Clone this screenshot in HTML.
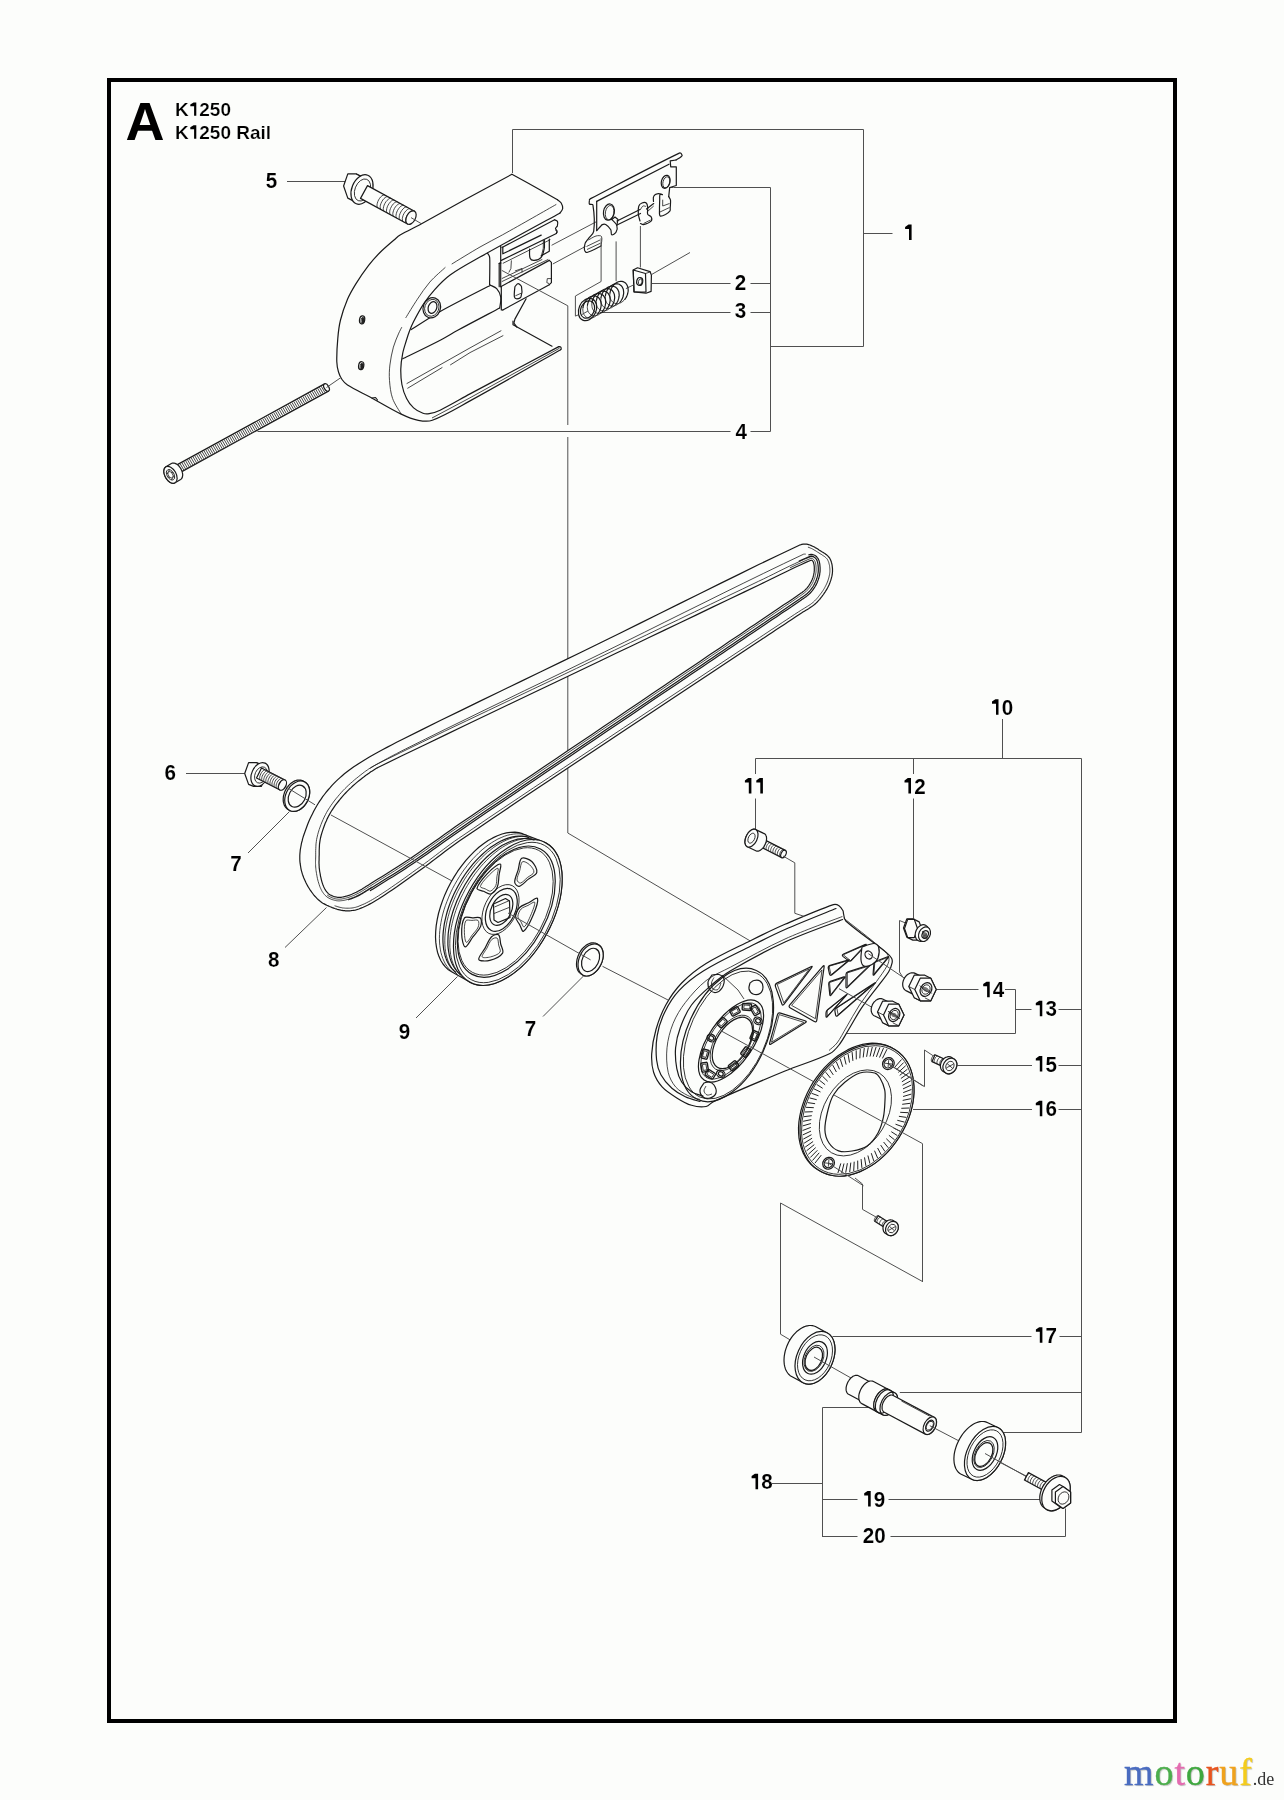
<!DOCTYPE html>
<html><head><meta charset="utf-8"><style>
html,body{margin:0;padding:0;background:#fcfdfb;}
body{width:1284px;height:1800px;position:relative;overflow:hidden;font-family:"Liberation Sans",sans-serif;}
#frame{position:absolute;left:107px;top:78px;width:1070px;height:1645px;box-sizing:border-box;border:4px solid #000;}
.hA{position:absolute;left:125px;top:95px;font:bold 53px/1 "Liberation Sans",sans-serif;color:#000;}
.h1{position:absolute;left:175px;top:100px;font:bold 19px/1 "Liberation Sans",sans-serif;color:#000;}
.h2{position:absolute;left:175px;top:123px;font:bold 19px/1 "Liberation Sans",sans-serif;color:#000;}
svg{position:absolute;left:0;top:0;will-change:transform;}
svg text{font:bold 21.7px "Liberation Sans",sans-serif;fill:#000;stroke:#fcfdfb;stroke-width:0.1px;}
svg text.bigA{font-size:54px;stroke-width:0;}
svg text.hd{font-size:19px;stroke-width:0.22px;}
.ld{stroke:#505050;stroke-width:1;fill:none;}
.o{stroke:#1a1a1a;stroke-width:1.2;fill:none;stroke-linejoin:round;stroke-linecap:round;}
.of{stroke:#1a1a1a;stroke-width:1.2;fill:#fcfdfb;stroke-linejoin:round;}
.t{stroke:#1a1a1a;stroke-width:0.8;fill:none;}
.logo{position:absolute;left:1124px;top:1753px;font:38px/1 "Liberation Serif",serif;letter-spacing:0.9px;white-space:nowrap;text-shadow:1px 1px 1px rgba(0,0,0,0.25);-webkit-text-stroke:0.35px currentColor;}
.logo small{font-size:18px;letter-spacing:0;color:#333;text-shadow:none;-webkit-text-stroke:0;}
</style></head><body>
<div id="frame"></div>
<svg width="1284" height="1800" viewBox="0 0 1284 1800">
<line class="ld" x1="287" y1="181.5" x2="345" y2="181.5"/>
<polyline class="ld" points="512.5,173 512.5,129.5 863.5,129.5 863.5,346.5 770.5,346.5"/>
<line class="ld" x1="863.5" y1="233.5" x2="892.5" y2="233.5"/>
<polyline class="ld" points="673.5,187.5 770.5,187.5 770.5,431.5 750.5,431.5"/>
<line class="ld" x1="750.5" y1="283.5" x2="770.5" y2="283.5"/>
<line class="ld" x1="750.5" y1="312.5" x2="770.5" y2="312.5"/>
<line class="ld" x1="652" y1="283.5" x2="730.5" y2="283.5"/>
<line class="ld" x1="600" y1="312.5" x2="730.5" y2="312.5"/>
<line class="ld" x1="257.5" y1="431.5" x2="730.5" y2="431.5"/>
<line class="ld" x1="1002.5" y1="719" x2="1002.5" y2="758.5"/>
<polyline class="ld" points="755.5,774 755.5,758.5 1081.5,758.5 1081.5,1432.5 1002,1432.5"/>
<line class="ld" x1="913.5" y1="758.5" x2="913.5" y2="774"/>
<line class="ld" x1="755.5" y1="798.5" x2="755.5" y2="830"/>
<line class="ld" x1="913.5" y1="798.5" x2="913.5" y2="918.5"/>
<line class="ld" x1="934" y1="989.5" x2="978.5" y2="989.5"/>
<polyline class="ld" points="1005,989.5 1015.5,989.5 1015.5,1033.5 846,1033.5"/>
<line class="ld" x1="1015.5" y1="1009.5" x2="1031.5" y2="1009.5"/>
<line class="ld" x1="1058.5" y1="1009.5" x2="1081.5" y2="1009.5"/>
<line class="ld" x1="957.5" y1="1065.5" x2="1032" y2="1065.5"/>
<line class="ld" x1="1058.5" y1="1065.5" x2="1081.5" y2="1065.5"/>
<line class="ld" x1="913" y1="1109.5" x2="1032" y2="1109.5"/>
<line class="ld" x1="1058.5" y1="1109.5" x2="1081.5" y2="1109.5"/>
<line class="ld" x1="832.5" y1="1336.5" x2="1031.5" y2="1336.5"/>
<line class="ld" x1="1059.5" y1="1336.5" x2="1081.5" y2="1336.5"/>
<line class="ld" x1="899.8" y1="1392.5" x2="1081.5" y2="1392.5"/>
<polyline class="ld" points="870,1407.5 822.5,1407.5 822.5,1537"/>
<line class="ld" x1="772" y1="1483.5" x2="822.5" y2="1483.5"/>
<line class="ld" x1="822.5" y1="1499.5" x2="857.5" y2="1499.5"/>
<line class="ld" x1="888.5" y1="1499.5" x2="1041.5" y2="1499.5"/>
<polyline class="ld" points="822.5,1536.5 857.5,1536.5"/>
<polyline class="ld" points="890.5,1536.5 1065.5,1536.5 1065.5,1508.5"/>
<line class="ld" x1="186" y1="773.5" x2="245.5" y2="773.5"/>
<line class="ld" x1="248" y1="853" x2="289.5" y2="811.5"/>
<line class="ld" x1="285" y1="947.5" x2="326.5" y2="907.5"/>
<line class="ld" x1="416" y1="1018" x2="457.5" y2="976.5"/>
<line class="ld" x1="543" y1="1016.5" x2="585" y2="974.5"/>
<text class="lb" transform="matrix(0.95,0,0,1,271.5,187.8)" text-anchor="middle">5</text>
<polygon points="905.1,226.9 908.5,224.6 911.6,224.6 911.6,240.1 909,240.1 909,229.1 905.1,229.1" fill="#000"/>
<text class="lb" transform="matrix(0.95,0,0,1,740.5,289.9)" text-anchor="middle">2</text>
<text class="lb" transform="matrix(0.95,0,0,1,740.5,317.7)" text-anchor="middle">3</text>
<text class="lb" transform="matrix(0.95,0,0,1,741.3,438.9)" text-anchor="middle">4</text>
<polygon points="992,701.5 995.4,699.2 998.5,699.2 998.5,714.7 996,714.7 996,703.7 992,703.7" fill="#000"/>
<text class="lb" transform="matrix(0.95,0,0,1,1007.5,714.7)" text-anchor="middle">0</text>
<polygon points="744.9,780.4 748.2,778.1 751.4,778.1 751.4,793.6 748.8,793.6 748.8,782.6 744.9,782.6" fill="#000"/>
<polygon points="756.3,780.4 759.7,778.1 762.9,778.1 762.9,793.6 760.3,793.6 760.3,782.6 756.3,782.6" fill="#000"/>
<polygon points="904.5,780.4 907.8,778.1 911,778.1 911,793.6 908.4,793.6 908.4,782.6 904.5,782.6" fill="#000"/>
<text class="lb" transform="matrix(0.95,0,0,1,919.9,793.6)" text-anchor="middle">2</text>
<text class="lb" transform="matrix(0.95,0,0,1,170.2,780.4)" text-anchor="middle">6</text>
<text class="lb" transform="matrix(0.95,0,0,1,236.1,871.2)" text-anchor="middle">7</text>
<text class="lb" transform="matrix(0.95,0,0,1,273.8,967.1)" text-anchor="middle">8</text>
<text class="lb" transform="matrix(0.95,0,0,1,404.5,1038.6)" text-anchor="middle">9</text>
<text class="lb" transform="matrix(0.95,0,0,1,530.4,1035.8)" text-anchor="middle">7</text>
<polygon points="983.2,984 986.5,981.7 989.7,981.7 989.7,997.2 987.1,997.2 987.1,986.2 983.2,986.2" fill="#000"/>
<text class="lb" transform="matrix(0.95,0,0,1,998.6,997.2)" text-anchor="middle">4</text>
<polygon points="1035.8,1003.1 1039.2,1000.8 1042.3,1000.8 1042.3,1016.3 1039.8,1016.3 1039.8,1005.3 1035.8,1005.3" fill="#000"/>
<text class="lb" transform="matrix(0.95,0,0,1,1051.3,1016.3)" text-anchor="middle">3</text>
<polygon points="1035.8,1058.4 1039.2,1056.1 1042.3,1056.1 1042.3,1071.6 1039.8,1071.6 1039.8,1060.6 1035.8,1060.6" fill="#000"/>
<text class="lb" transform="matrix(0.95,0,0,1,1051.3,1071.6)" text-anchor="middle">5</text>
<polygon points="1035.8,1103 1039.2,1100.7 1042.3,1100.7 1042.3,1116.2 1039.8,1116.2 1039.8,1105.2 1035.8,1105.2" fill="#000"/>
<text class="lb" transform="matrix(0.95,0,0,1,1051.3,1116.2)" text-anchor="middle">6</text>
<polygon points="1035.9,1329.6 1039.2,1327.3 1042.4,1327.3 1042.4,1342.8 1039.8,1342.8 1039.8,1331.8 1035.9,1331.8" fill="#000"/>
<text class="lb" transform="matrix(0.95,0,0,1,1051.3,1342.8)" text-anchor="middle">7</text>
<polygon points="751.6,1476 754.9,1473.7 758.1,1473.7 758.1,1489.2 755.5,1489.2 755.5,1478.2 751.6,1478.2" fill="#000"/>
<text class="lb" transform="matrix(0.95,0,0,1,767,1489.2)" text-anchor="middle">8</text>
<polygon points="864.2,1493.3 867.5,1491 870.7,1491 870.7,1506.5 868.1,1506.5 868.1,1495.5 864.2,1495.5" fill="#000"/>
<text class="lb" transform="matrix(0.95,0,0,1,879.6,1506.5)" text-anchor="middle">9</text>
<text class="lb" transform="matrix(0.95,0,0,1,868.6,1543)" text-anchor="middle">2</text>
<text class="lb" transform="matrix(0.95,0,0,1,880,1543)" text-anchor="middle">0</text>
<text class="bigA" x="125.6" y="140.3">A</text>
<text class="hd" transform="matrix(1.0,0,0,1,181.9,115.8)" text-anchor="middle">K</text>
<polygon points="190.3,104.4 193.6,102.4 196.3,102.4 196.3,115.8 194.1,115.8 194.1,106.3 190.3,106.3" fill="#000"/>
<text class="hd" transform="matrix(1.0,0,0,1,204.6,115.8)" text-anchor="middle">2</text>
<text class="hd" transform="matrix(1.0,0,0,1,215.1,115.8)" text-anchor="middle">5</text>
<text class="hd" transform="matrix(1.0,0,0,1,225.7,115.8)" text-anchor="middle">0</text>
<text class="hd" transform="matrix(1.0,0,0,1,181.9,138.7)" text-anchor="middle">K</text>
<polygon points="190.3,127.3 193.6,125.3 196.3,125.3 196.3,138.7 194.1,138.7 194.1,129.2 190.3,129.2" fill="#000"/>
<text class="hd" transform="matrix(1.0,0,0,1,204.6,138.7)" text-anchor="middle">2</text>
<text class="hd" transform="matrix(1.0,0,0,1,215.1,138.7)" text-anchor="middle">5</text>
<text class="hd" transform="matrix(1.0,0,0,1,225.7,138.7)" text-anchor="middle">0</text>
<text class="hd" transform="matrix(1.0,0,0,1,243.1,138.7)" text-anchor="middle">R</text>
<text class="hd" transform="matrix(1.0,0,0,1,255.3,138.7)" text-anchor="middle">a</text>
<text class="hd" transform="matrix(1.0,0,0,1,263.2,138.7)" text-anchor="middle">i</text>
<text class="hd" transform="matrix(1.0,0,0,1,268.5,138.7)" text-anchor="middle">l</text>
<path class="o" d="M511.9,174.3 C504,178.6 480.1,191.3 464.3,200 C449.9,207.9 435.6,216.1 421.1,224 C414.2,227.8 406.9,231 400.1,235 C397.8,236.3 396,238.3 394,240 C389.3,244.1 384.4,248.1 380,252.5 C375.9,256.6 372.1,260.9 368.6,265.4 C364,271.4 359.7,277.7 355.7,284.1 C352.7,289 349.7,294 347.5,299.3 C344.7,306 342.2,313 340.5,320 C339,326 338.3,332.2 337.8,338.4 C337.1,346.2 336.6,354 336.8,361.8 C336.9,365.2 337.5,368.7 338.5,372 C339.3,374.6 340.5,377.3 342,379.5 C343.5,381.6 345.3,383.7 347.5,385.1 C354.6,389.6 362.5,393 370,397 C380.4,402.6 390.5,409 401.2,414.1 C406.6,416.7 412.4,419.1 418.3,420.3 C422.8,421.2 428,421.9 432.3,420.3 C445.3,415.4 457.6,407.7 470,400.9 C500.4,384.2 545.6,358.2 560.7,349.7" />
<path class="o" d="M511.9,174.3 C515.8,176.4 527.3,182.7 535,187 C542.5,191.2 553.8,197.6 557.5,199.7" />
<path class="o" d="M557.5,199.7 C558.1,200.2 560.4,201.6 561.2,203 C562.1,204.6 562.9,206.8 562.7,208.5 C562.5,210.2 560.3,212.4 559.8,213.2" />
<path class="o" d="M559.8,213.2 C546.5,220.5 506.4,242.2 480,257.1 C469.9,262.8 459.5,268.3 450.1,275 C444.3,279.2 439.3,284.5 434.5,289.8 C430.5,294.2 426.9,298.9 423.6,303.9 C419.9,309.6 416.7,315.7 413.5,321.8 C412,324.8 410.7,327.9 409.5,331 C408.4,333.9 407.4,337 406.5,340 C405.2,344.4 403.6,348.9 402.7,353.4 C401.7,358.5 400.9,363.7 400.8,368.9 C400.7,374.1 400.9,379.4 401.9,384.5 C402.8,389.3 404.4,394.2 406.6,398.5 C408.3,402 410.8,405.3 413.6,407.9 C416.2,410.3 419.7,412.1 423,413.3 C424.9,414 427.2,414.1 429.2,413.7 C432.9,413 436.7,411.9 440.1,410.2 C450.3,405.3 460,399.3 470,393.9 C499.6,378.1 544,354.5 558.8,346.6" />
<path class="o" d="M558.8,346.6 C559.1,346.7 560.4,346.8 560.8,347.2 C561.2,347.6 561.2,348.4 561.2,349 C561.2,349.3 560.8,349.6 560.7,349.7" />
<polyline class="t" points="432,418 470,397.8 559.5,348.2"/>
<path class="t" d="M556.3,204.4 C547.3,209.5 520.6,224.8 502.6,234.8 C495.1,239 487.4,242.7 480,247 C470.5,252.5 456.4,261.2 451.7,264.1" />
<path class="t" d="M445.4,267.3 C442.8,269.8 434.5,276.7 429.8,282.1 C425.2,287.4 421.3,293.4 417.4,299.2 C413.3,305.3 407.6,314.8 405.7,317.9" />
<path class="t" d="M401.8,327.2 C401.3,328.2 399.7,331.1 398.8,333.1 C396.9,337.7 394.7,342.3 393.4,347.1 C391.8,352.9 390.6,359 389.9,365 C389.3,370.1 389.1,375.4 389.5,380.6 C390,386.6 390.6,392.9 392.6,398.5 C394.5,404 399.8,411.5 401.2,414.1" />
<ellipse class="of" cx="362.1" cy="319.9" rx="2.6" ry="4" transform="rotate(10 362.1 319.9)"/>
<ellipse class="t" cx="362.6" cy="320.3" rx="1.6" ry="3" transform="rotate(10 362.6 320.3)"/>
<ellipse class="of" cx="361.2" cy="365.7" rx="2.6" ry="4" transform="rotate(10 361.2 365.7)"/>
<ellipse class="t" cx="361.7" cy="366.1" rx="1.6" ry="3" transform="rotate(10 361.7 366.1)"/>
<ellipse cx="363" cy="320.5" rx="1.3" ry="3" fill="#222"/>
<ellipse cx="362" cy="366.3" rx="1.3" ry="3" fill="#222"/>
<polyline class="o" points="372,398 375.5,397.5 377.5,400"/>
<path class="o" d="M411.2,329.6 C416.1,326.5 430.6,316.9 440.7,311.2 C457.1,302.1 482.3,289.5 490.6,285.2" />
<path class="o" d="M402.7,358.8 C409,355.7 428.2,346.5 440.7,340 C446.7,336.9 452.3,333.2 458.2,330 C472,322.5 492.8,311.7 499.7,308" />
<polyline class="t" points="406.6,383.7 470,347.9 501.3,330.6"/>
<polyline class="t" points="407.4,388.4 442.4,367.4"/>
<polyline class="t" points="450.2,365 470,352.6 503.3,335.5"/>
<polyline class="o" points="513,321 513,324.8 552,346.2"/>
<ellipse class="of" cx="431.8" cy="307.8" rx="10.3" ry="8.6" transform="rotate(-70 431.8 307.8)"/>
<ellipse class="t" cx="431.8" cy="307.8" rx="8.6" ry="7" transform="rotate(-70 431.8 307.8)"/>
<ellipse class="o" cx="432.5" cy="307.5" rx="6" ry="4.2" transform="rotate(-70 432.5 307.5)"/>
<polyline class="o" points="502,247.5 554.6,219.8"/>
<path class="o" d="M554.6,219.8 C555.1,220.1 557.1,220.6 557.5,221.5 C558,222.7 557.7,224.6 557.3,226 C557,226.9 555.6,227.6 555.5,228.5 C555.5,229.3 556.8,230.1 557,231 C557.1,231.8 556.5,233.1 556.4,233.5" />
<polyline class="o" points="556.4,233.5 501.3,260.4"/>
<polyline class="t" points="556.4,233.5 557.4,232 555.4,230"/>
<polyline class="t" points="550.4,239.6 502.8,263.4"/>
<polyline class="o" points="500.7,246.2 500.7,263.4"/>
<polyline class="o" points="502.8,247.2 502.8,253.8 541.2,235.1"/>
<polyline class="o" points="549.3,239.1 549.3,251.3 541.2,255.8"/>
<path class="o" d="M529.6,249.2 C529.7,250.8 529.1,255.9 530.1,258.3 C530.6,259.6 532.8,260.5 534.2,260.4 C536.5,260.2 539.7,259.1 541.2,257.3 C543.1,255.1 543.7,251.3 544.3,248.2 C544.7,245.6 544.3,241.5 544.3,240.1" />
<polyline class="t" points="543.3,240.1 543.3,248.2 541.2,256.8"/>
<polyline class="t" points="511.4,260.4 510.9,268.5 508.8,272.5"/>
<polyline class="o" points="499.2,263.4 499.2,286.7"/>
<polyline class="o" points="500.7,263.4 500.7,286.7"/>
<polyline class="o" points="499.2,263.4 500.7,262.4"/>
<path class="o" d="M487.6,253.3 C487.9,253.8 489.1,255.2 489.4,256.3 C489.8,257.6 489.8,259 489.8,260.4 C489.9,268.5 489.6,280.6 489.6,284.7" />
<polyline class="o" points="500.7,286.7 549.3,260.4"/>
<polyline class="t" points="501.8,281.6 548.3,259.4"/>
<polyline class="t" points="501.8,278.6 542.3,259.4"/>
<polyline class="t" points="514.9,271 522,268.5 522,272.5"/>
<polyline class="o" points="549.3,260.4 551.4,262.4 551.4,282.6 549.3,284.7"/>
<polyline class="t" points="551.4,278.6 547.3,278.6 546.8,282.6 549.3,283.7"/>
<polyline class="o" points="502.8,310 549.3,284.7"/>
<polyline class="o" points="501.3,286.7 501.3,310 502.8,310"/>
<path class="o" d="M514.9,286.7 C514.8,288.4 513.9,293.8 514.4,296.8 C514.6,297.8 516,298.8 516.9,298.8 C518.2,298.8 520.5,298.1 521,296.8 C522,294 522.2,289.7 521.5,286.7 C521.2,285.3 519.1,283.7 518,283.7 C516.9,283.7 515.4,286.2 514.9,286.7" />
<polyline class="t" points="515.4,295.8 521,293.3"/>
<path class="o" d="M490.6,285.2 C491.6,285.8 495.2,287 496.7,288.7 C498.6,290.9 500.3,294 500.7,296.8 C501.3,300.4 499.9,306.1 499.7,308" />
<polyline class="o" points="526.1,298.8 514.9,319.1 513.9,323.1 516.9,327.2"/>
<line class="ld" x1="551.6" y1="245.3" x2="596" y2="221.9"/>
<line class="ld" x1="552.8" y1="264" x2="585.5" y2="246.4"/>
<polyline class="ld" points="501.8,270.4 567.8,305.8 567.8,425"/>
<line class="ld" x1="567.8" y1="437" x2="567.8" y2="833"/>
<polyline class="ld" points="669.7,187.5 673.5,187.5"/>
<path class="o" d="M589.4,199.7 C589.7,199.5 590.5,198.7 591.1,198.4 C620.4,183.2 649.9,167.3 679.3,153.1 C680.2,152.7 681.5,153.9 681.9,154.6 C682.2,155 681.9,156.1 681.4,156.5 C679.9,157.9 676.9,159.4 676,160" />
<polyline class="o" points="596.7,201.4 669,164.2"/>
<polyline class="o" points="676,160 670.2,160.8 670.7,166.8 676.3,166.8 676.3,185.5 669.7,187.5 668.7,196.6"/>
<path class="o" d="M668.7,196.6 C669,197.2 670.3,198.8 670.5,200 C670.8,202.7 670.3,205.5 670.2,208.3 C670.2,209.1 670.5,210.2 670,210.8 C668.9,212.2 667.2,213.6 665.5,214.5 C663.9,215.3 661.1,216.6 660.1,215.9 C659.1,215.1 659.5,212 659.5,210 C659.4,206.7 659.6,203.3 659.7,200 C659.8,198.2 659.4,195.9 660,194.6 C660.3,194.1 661.9,194.6 662.3,194.6" />
<path class="o" d="M662.3,194.6 C661.6,194.4 659.3,193.4 658,193.7 C656.5,194 654.4,195 653.7,196.3 C652.9,197.6 653.5,200.6 653.5,201.5" />
<polyline class="t" points="662.7,199.7 662.7,206 669.5,203.5"/>
<polyline class="t" points="660,212 669.5,207.5"/>
<path class="o" d="M589.4,200.6 C589.4,201.2 588.8,203.3 589.4,204 C590,204.7 592.7,203.8 592.9,204.9 C594.2,212.9 594.8,223 593.7,231.4 C593.3,234.1 590.3,236 588.6,238.3 C587.4,240 585.8,241.5 585.1,243.4 C584.4,245.4 584.1,248 584.5,250 C584.7,251.1 586,252.7 587,252.5 C591.5,251.4 598.7,247.1 601,246" />
<polyline class="o" points="596.7,201.4 596.7,230.6"/>
<path class="t" d="M588.5,240 C589.8,239.3 593.4,236.7 596,236 C597.7,235.5 600.9,235.3 601.5,236.5 C602.6,238.6 601.1,244.4 601,246" />
<polyline class="t" points="586.5,246.5 600,240"/>
<polyline class="t" points="587,249.5 600.5,243.2"/>
<path class="o" d="M596.7,230.6 C597.2,230 598.9,228.2 600,227 C600.8,226.2 601.4,225 602.3,224.6 C603.3,224.2 604.8,224.1 605.7,224.6 C607.6,225.8 609.6,227.7 610.8,229.7 C611.6,231.1 610.8,234.4 611.7,234.8 C612.5,235.2 615.3,233.6 616,232.3 C617,230.5 617.5,227.4 616.8,225.4 C616,223.1 612.6,220.4 611.7,219.4" />
<polyline class="o" points="611.7,219.4 615,217 618,219.5 616.8,225.4"/>
<ellipse class="of" cx="608.9" cy="212.1" rx="5.4" ry="8.2" transform="rotate(10 608.9 212.1)"/>
<ellipse class="t" cx="609.6" cy="212.6" rx="4.2" ry="7.2" transform="rotate(10 609.6 212.6)"/>
<polyline class="o" points="617,221 640,209.5"/>
<polyline class="o" points="617.5,224.8 640.5,213.5"/>
<path class="o" d="M640,221 C639.7,219.8 638.5,216.4 638.3,214 C638.1,211.4 638,208.4 638.8,206 C639.2,204.7 640.7,203.5 642,203 C643.3,202.5 645.6,202.4 646.5,203.2 C647.5,204.1 647.5,206.4 647.7,208 C647.9,210.1 647,212.5 647.7,214.3 C648.2,215.5 650.5,215.7 651.1,216.8 C651.7,217.9 652,220.2 651.1,221.1 C649.4,222.8 646,224 643.4,224.6 C642.5,224.8 641,223.7 640.5,223.5" />
<path class="t" d="M640.5,209.5 C640.9,208.9 641.9,206.6 643,206 C643.8,205.6 645.5,206.4 646,206.5" />
<polyline class="t" points="643.5,223.5 650.5,220"/>
<polyline class="o" points="646.5,209 653.7,203.6"/>
<polyline class="t" points="647.5,211.5 653.7,206"/>
<ellipse class="of" cx="665.7" cy="181.8" rx="4.3" ry="6.6" transform="rotate(15 665.7 181.8)"/>
<ellipse class="t" cx="666.3" cy="182.3" rx="3.3" ry="5.6" transform="rotate(15 666.3 182.3)"/>
<line class="ld" x1="640.4" y1="226" x2="640.4" y2="267.5"/>
<line class="ld" x1="616.1" y1="241.4" x2="616.1" y2="281.1"/>
<polyline class="ld" points="601.1,238.1 601.1,281.5 575.4,296 575.4,316.1 583,312.9"/>
<polygon class="of" points="633.2,270 637.5,267.8 650,271.6 651.4,275 651.1,291.4 646,293.2 634,291.8"/>
<polygon class="o" points="633.2,270 645.5,273.5 646,292 634,291.8"/>
<polyline class="t" points="645.5,273.5 650.5,271.8"/>
<ellipse class="o" cx="639.7" cy="281.5" rx="3" ry="4" transform="rotate(10 639.7 281.5)"/>
<ellipse class="t" cx="640.2" cy="281.8" rx="1.8" ry="2.8" transform="rotate(10 640.2 281.8)"/>
<line class="ld" x1="651.6" y1="274.5" x2="690" y2="252.5"/>
<line class="ld" x1="625.9" y1="288.6" x2="633.8" y2="284.8"/>
<ellipse class="of" cx="587.5" cy="309.5" rx="11.6" ry="8.6" transform="rotate(-66 587.5 309.5)"/>
<ellipse class="o" cx="587.5" cy="309.5" rx="9" ry="6.7" transform="rotate(-66 587.5 309.5)"/>
<polyline class="o" points="583,307.4 583.2,306.3 583.5,305.3 583.9,304.2 584.3,303.2 584.8,302.2 585.4,301.3 586,300.4 586.7,299.6 587.5,298.8 588.3,298.1 589.1,297.5 589.9,297 590.8,296.6 591.7,296.3 592.6,296.1 593.4,295.9 594.3,295.9 595.1,296 595.9,296.2 596.7,296.5 597.4,296.9 598.1,297.3 598.8,297.9 599.3,298.6 599.8,299.3 600.2,300.1 600.6,301 600.9,301.9 601,302.8 601.1,303.9 601.2,304.9 601.1,306 600.9,307 600.7,308.1 600.4,309.2 600,310.2 599.6,311.2 599,312.2 598.4,313.1 597.8,314"/>
<polyline class="t" points="597.8,314 596.9,315 595.9,315.9 594.8,316.7 593.8,317.3 592.6,317.8 591.5,318.1 590.4,318.2 589.3,318.2 588.3,318 587.3,317.7 586.4,317.2 585.5,316.5 584.8,315.7 584.1,314.8 583.6,313.7 583.2,312.6 583,311.4 582.8,310.1 582.9,308.8 583,307.4"/>
<polyline class="o" points="587.5,305 587.7,303.9 588,302.8 588.4,301.8 588.8,300.8 589.3,299.8 589.9,298.9 590.5,298 591.2,297.1 592,296.4 592.8,295.7 593.6,295.1 594.4,294.6 595.3,294.2 596.2,293.9 597.1,293.6 597.9,293.5 598.8,293.5 599.6,293.6 600.4,293.8 601.2,294 601.9,294.4 602.6,294.9 603.3,295.5 603.8,296.1 604.3,296.9 604.7,297.7 605.1,298.5 605.4,299.4 605.5,300.4 605.6,301.4 605.7,302.5 605.6,303.5 605.4,304.6 605.2,305.7 604.9,306.7 604.5,307.8 604.1,308.8 603.5,309.8 602.9,310.7 602.3,311.6"/>
<polyline class="t" points="602.3,311.6 601.4,312.6 600.4,313.5 599.3,314.2 598.3,314.9 597.1,315.3 596,315.6 594.9,315.8 593.8,315.8 592.8,315.6 591.8,315.2 590.9,314.7 590,314.1 589.3,313.3 588.6,312.4 588.1,311.3 587.7,310.2 587.5,309 587.3,307.7 587.4,306.3 587.5,305"/>
<polyline class="o" points="592,302.6 592.2,301.5 592.5,300.4 592.9,299.4 593.3,298.3 593.8,297.4 594.4,296.4 595,295.5 595.7,294.7 596.5,294 597.3,293.3 598.1,292.7 598.9,292.2 599.8,291.7 600.7,291.4 601.6,291.2 602.4,291.1 603.3,291.1 604.1,291.1 604.9,291.3 605.7,291.6 606.4,292 607.1,292.5 607.8,293 608.3,293.7 608.8,294.4 609.2,295.2 609.6,296.1 609.9,297 610,298 610.1,299 610.2,300 610.1,301.1 609.9,302.2 609.7,303.2 609.4,304.3 609,305.3 608.6,306.4 608,307.3 607.4,308.3 606.8,309.1"/>
<polyline class="t" points="606.8,309.1 605.9,310.1 604.9,311 603.8,311.8 602.8,312.4 601.6,312.9 600.5,313.2 599.4,313.4 598.3,313.3 597.3,313.2 596.3,312.8 595.4,312.3 594.5,311.7 593.8,310.9 593.1,309.9 592.6,308.9 592.2,307.7 592,306.5 591.8,305.2 591.9,303.9 592,302.6"/>
<polyline class="o" points="596.5,300.1 596.7,299.1 597,298 597.4,296.9 597.8,295.9 598.3,294.9 598.9,294 599.5,293.1 600.2,292.3 601,291.5 601.8,290.8 602.6,290.2 603.4,289.7 604.3,289.3 605.2,289 606.1,288.8 606.9,288.6 607.8,288.6 608.6,288.7 609.4,288.9 610.2,289.2 610.9,289.6 611.6,290.1 612.3,290.6 612.8,291.3 613.3,292 613.7,292.8 614.1,293.7 614.4,294.6 614.5,295.6 614.6,296.6 614.7,297.6 614.6,298.7 614.4,299.7 614.2,300.8 613.9,301.9 613.5,302.9 613.1,303.9 612.5,304.9 611.9,305.8 611.3,306.7"/>
<polyline class="t" points="611.3,306.7 610.4,307.7 609.4,308.6 608.3,309.4 607.3,310 606.1,310.5 605,310.8 603.9,310.9 602.8,310.9 601.8,310.7 600.8,310.4 599.9,309.9 599,309.2 598.3,308.4 597.6,307.5 597.1,306.5 596.7,305.3 596.5,304.1 596.3,302.8 596.4,301.5 596.5,300.1"/>
<polyline class="o" points="601,297.7 601.2,296.6 601.5,295.6 601.9,294.5 602.3,293.5 602.8,292.5 603.4,291.6 604,290.7 604.7,289.9 605.5,289.1 606.3,288.4 607.1,287.8 607.9,287.3 608.8,286.9 609.7,286.6 610.6,286.3 611.4,286.2 612.3,286.2 613.1,286.3 613.9,286.5 614.7,286.8 615.4,287.1 616.1,287.6 616.8,288.2 617.3,288.8 617.8,289.6 618.2,290.4 618.6,291.2 618.9,292.2 619,293.1 619.1,294.1 619.2,295.2 619.1,296.2 618.9,297.3 618.7,298.4 618.4,299.4 618,300.5 617.6,301.5 617,302.5 616.4,303.4 615.8,304.3"/>
<polyline class="t" points="615.8,304.3 614.9,305.3 613.9,306.2 612.8,306.9 611.8,307.6 610.6,308 609.5,308.4 608.4,308.5 607.3,308.5 606.3,308.3 605.3,308 604.4,307.4 603.5,306.8 602.8,306 602.1,305.1 601.6,304 601.2,302.9 601,301.7 600.8,300.4 600.9,299.1 601,297.7"/>
<polyline class="o" points="605.5,295.3 605.7,294.2 606,293.1 606.4,292.1 606.8,291.1 607.3,290.1 607.9,289.1 608.5,288.2 609.2,287.4 610,286.7 610.8,286 611.6,285.4 612.4,284.9 613.3,284.5 614.2,284.1 615.1,283.9 615.9,283.8 616.8,283.8 617.6,283.9 618.4,284 619.2,284.3 619.9,284.7 620.6,285.2 621.3,285.8 621.8,286.4 622.3,287.1 622.7,287.9 623.1,288.8 623.4,289.7 623.5,290.7 623.6,291.7 623.7,292.8 623.6,293.8 623.4,294.9 623.2,296 622.9,297 622.5,298.1 622.1,299.1 621.5,300 620.9,301 620.3,301.8"/>
<polyline class="t" points="620.3,301.8 619.4,302.9 618.4,303.8 617.3,304.5 616.3,305.1 615.1,305.6 614,305.9 612.9,306.1 611.8,306.1 610.8,305.9 609.8,305.5 608.9,305 608,304.4 607.3,303.6 606.6,302.6 606.1,301.6 605.7,300.5 605.5,299.2 605.3,298 605.4,296.6 605.5,295.3"/>
<polyline class="o" points="610,292.8 610.2,291.8 610.5,290.7 610.9,289.7 611.3,288.6 611.8,287.6 612.4,286.7 613,285.8 613.7,285 614.5,284.2 615.3,283.6 616.1,283 616.9,282.4 617.8,282 618.7,281.7 619.6,281.5 620.4,281.4 621.3,281.3 622.1,281.4 622.9,281.6 623.7,281.9 624.4,282.3 625.1,282.8 625.8,283.3 626.3,284 626.8,284.7 627.2,285.5 627.6,286.4 627.9,287.3 628,288.3 628.1,289.3 628.2,290.3 628.1,291.4 627.9,292.5 627.7,293.5 627.4,294.6 627,295.6 626.6,296.6 626,297.6 625.4,298.5 624.8,299.4"/>
<polyline class="t" points="624.8,299.4 623.9,300.4 622.9,301.3 621.8,302.1 620.8,302.7 619.6,303.2 618.5,303.5 617.4,303.6 616.3,303.6 615.3,303.4 614.3,303.1 613.4,302.6 612.5,301.9 611.8,301.1 611.1,300.2 610.6,299.2 610.2,298 610,296.8 609.8,295.5 609.9,294.2 610,292.8"/>
<line class="ld" x1="581.5" y1="314.7" x2="588" y2="311"/>
<path class="o" style="fill:#fcfdfb;fill-rule:evenodd" d="M808.6,544.6 809.9,545 811.3,545.6 812.6,546.2 813.9,546.8 815.2,547.6 816.5,548.3 817.8,549.1 819,549.9 820.3,550.7 821.5,551.5 822.3,552 823.2,552.5 824,553.1 824.9,553.6 825.7,554.2 826.5,554.8 827.2,555.4 828,556.1 828.6,556.8 829.2,557.5 829.7,558.2 830.1,559 830.5,559.8 830.9,560.7 831.2,561.5 831.4,562.4 831.7,563.3 831.9,564.2 832.1,565.1 832.2,566 832.3,566.9 832.4,567.9 832.5,568.9 832.5,569.8 832.5,570.8 832.5,571.8 832.4,572.7 832.3,573.7 832.2,574.7 832,575.6 831.8,576.7 831.5,577.7 831.2,578.8 830.9,579.8 830.6,580.9 830.2,581.9 829.8,583 829.4,584 829,585 828.5,586 828,587 827.5,588 827,588.9 826.4,589.9 825.8,590.8 825.2,591.8 824.6,592.7 824,593.6 823.4,594.5 822.7,595.4 822,596.4 821.2,597.3 820.4,598.3 819.7,599.3 818.9,600.2 818,601.1 817.2,602 816.3,602.9 815.4,603.7 814.5,604.5 813.1,605.6 811.8,606.6 810.3,607.6 808.9,608.5 807.4,609.4 805.9,610.3 804.4,611.2 802.9,612.1 801.5,613.1 800,614 796.1,616.6 792.1,619.2 788.2,621.8 784.3,624.4 780.3,627 776.4,629.6 772.5,632.2 768.6,634.8 764.6,637.4 760.7,640 745.6,650 730.5,660 715.5,670 700.4,680 685.3,689.9 670.2,699.9 655.2,709.9 640.1,720 625,730 610,740 595,750 579.9,760 564.9,770 549.9,780.1 534.8,790.1 519.8,800.1 504.8,810.2 489.9,820.3 474.9,830.4 460,840.6 456.2,843.3 452.4,846 448.6,848.8 444.9,851.6 441.1,854.4 437.4,857.2 433.7,860.1 429.9,862.9 426.2,865.7 422.4,868.4 418.2,871.4 414,874.4 409.8,877.5 405.6,880.5 401.4,883.5 397.2,886.5 392.9,889.4 388.6,892.3 384.3,895.2 380,898 378,899.3 375.9,900.5 373.9,901.7 371.8,902.9 369.6,904.1 367.5,905.2 365.4,906.2 363.2,907.2 361,908.1 358.8,909 357.6,909.4 356.3,909.8 355,910.1 353.6,910.3 352.3,910.5 351,910.7 349.6,910.8 348.3,910.8 346.9,910.8 345.6,910.8 344.4,910.7 343.2,910.6 342,910.4 340.8,910.2 339.6,909.9 338.4,909.6 337.2,909.3 336,908.9 334.8,908.5 333.7,908.1 332.3,907.6 330.9,907 329.5,906.5 328.2,905.9 326.8,905.3 325.5,904.6 324.2,903.9 322.9,903.2 321.7,902.4 320.5,901.5 319.3,900.5 318.1,899.5 316.9,898.4 315.8,897.2 314.7,896 313.7,894.8 312.7,893.5 311.7,892.2 310.8,890.9 309.9,889.6 308.9,888 307.9,886.4 307,884.7 306.1,883 305.3,881.3 304.5,879.5 303.7,877.8 303.1,876 302.4,874.2 301.9,872.4 301.4,870.6 301,868.8 300.7,867 300.4,865.1 300.1,863.2 299.9,861.4 299.8,859.5 299.8,857.6 299.8,855.7 299.9,853.9 300.1,851.8 300.3,849.6 300.7,847.5 301.1,845.3 301.5,843.2 302.1,841 302.6,838.9 303.2,836.8 303.9,834.8 304.6,832.7 305.6,830 306.6,827.2 307.6,824.5 308.7,821.8 309.9,819.1 311.1,816.5 312.4,813.9 313.7,811.3 315.1,808.7 316.5,806.2 318,803.8 319.5,801.4 321.1,799.1 322.7,796.7 324.4,794.5 326.2,792.2 328,790 329.9,787.9 331.8,785.7 333.7,783.7 335.7,781.6 337.8,779.6 340,777.6 342.2,775.7 344.4,773.8 346.7,772 349,770.2 351.4,768.5 353.8,766.8 356.2,765.2 360.5,762.4 364.9,759.7 369.4,757.1 373.8,754.5 378.3,752 382.9,749.5 387.4,747.1 392,744.7 396.6,742.3 401.2,740 421,730.1 440.8,720.3 460.7,710.6 480.6,700.9 500.5,691.3 520.4,681.6 540.3,672 560.2,662.4 580.1,652.7 600,643 619.9,633.2 639.8,623.4 659.7,613.5 679.6,603.6 699.6,593.7 719.5,583.9 739.4,574.1 759.3,564.3 779.3,554.7 799.3,545.2 800.2,544.8 801.1,544.6 802,544.3 803,544.2 803.9,544.1 804.9,544.1 805.9,544.1 806.8,544.2 807.7,544.4Z M811,560.3 811.3,560.2 811.6,560.3 811.9,560.4 812.2,560.6 812.5,560.9 812.8,561.2 813,561.5 813.2,561.8 813.4,562.2 813.5,562.5 813.7,563.3 813.9,564.2 814.1,565.1 814.2,566 814.3,566.9 814.3,567.8 814.3,568.8 814.3,569.7 814.3,570.6 814.2,571.5 814.1,572.4 813.9,573.4 813.8,574.3 813.6,575.2 813.3,576.1 813.1,577.1 812.8,578 812.4,578.9 812.1,579.7 811.7,580.6 811.3,581.5 810.8,582.4 810.3,583.3 809.8,584.2 809.2,585 808.7,585.9 808.1,586.7 807.4,587.5 806.8,588.3 806.1,589 805.4,589.7 804.6,590.4 803.8,591.1 802.9,591.8 802.1,592.4 801.2,593 800.3,593.6 799.5,594.2 798.6,594.8 797.7,595.4 793,598.7 788.2,601.9 783.4,605.1 778.7,608.3 773.9,611.5 769.1,614.8 764.3,618 759.5,621.2 754.8,624.4 750,627.6 745,631 740,634.4 735,637.7 730,641.1 725,644.5 720,647.9 715,651.3 710,654.6 705,658 700,661.4 688,669.5 676,677.6 664,685.7 652,693.8 640,702 628,710.1 616,718.2 604,726.3 592,734.4 580,742.5 568,750.6 556,758.7 544,766.8 532,774.9 519.9,783 507.9,791.1 495.9,799.2 483.9,807.3 472,815.4 460,823.6 454.9,827.1 449.8,830.7 444.7,834.3 439.7,837.9 434.6,841.5 429.6,845.1 424.5,848.6 419.4,852.2 414.3,855.7 409.2,859.2 405.3,861.8 401.5,864.3 397.6,866.8 393.6,869.3 389.7,871.8 385.8,874.2 381.8,876.7 377.9,879.1 373.9,881.5 370,884 368.6,884.9 367.3,885.7 365.9,886.6 364.6,887.5 363.2,888.3 361.8,889.2 360.4,890 359,890.8 357.6,891.6 356.2,892.3 355.1,892.8 354,893.3 352.9,893.8 351.8,894.3 350.7,894.7 349.6,895.1 348.4,895.5 347.3,895.9 346.1,896.2 345,896.5 344.2,896.7 343.4,896.9 342.6,897 341.8,897.2 341,897.3 340.2,897.3 339.4,897.4 338.6,897.4 337.8,897.3 337,897.2 336.1,897 335.2,896.8 334.3,896.6 333.3,896.3 332.4,895.9 331.5,895.6 330.7,895.1 329.9,894.7 329.1,894.2 328.4,893.6 327.7,892.9 327,892.2 326.4,891.4 325.8,890.6 325.2,889.7 324.7,888.8 324.2,887.8 323.8,886.9 323.4,885.9 323,885 322.5,883.6 322,882.1 321.6,880.6 321.2,879.1 320.9,877.6 320.5,876.1 320.3,874.6 320,873 319.7,871.5 319.5,870 319.4,868.9 319.2,867.9 319.2,866.8 319.1,865.7 319.1,864.6 319,863.5 319,862.4 319,861.4 319.1,860.3 319.1,859.2 319.1,857.1 319.2,854.9 319.2,852.8 319.2,850.6 319.3,848.5 319.4,846.4 319.5,844.2 319.8,842.1 320.1,840.1 320.5,838 321.1,835.5 321.8,833.1 322.6,830.6 323.4,828.2 324.3,825.7 325.2,823.3 326.3,821 327.3,818.6 328.5,816.3 329.7,814.1 331,811.8 332.4,809.6 333.9,807.4 335.4,805.2 337,803.1 338.7,801 340.3,799 342.1,796.9 343.8,794.9 345.6,793 347.4,791.1 349.2,789.3 351.1,787.6 353,785.8 354.9,784.1 356.9,782.4 358.9,780.8 360.9,779.2 363,777.6 365,776 366.4,774.9 367.8,773.9 369.3,772.9 370.8,771.8 372.3,770.9 373.8,769.9 375.3,769 376.8,768.1 378.4,767.3 380,766.5 401.9,755.8 423.9,745.2 445.9,734.6 467.9,724 489.9,713.5 511.9,703 533.9,692.5 556,682 578,671.5 600,661 616,653.3 632,645.7 648,638 664,630.4 680,622.7 696,615.1 712,607.4 728,599.8 744,592.1 760,584.5 765.1,582 770.2,579.5 775.3,577 780.4,574.5 785.6,572 790.7,569.5 795.8,567 800.9,564.7 805.9,562.4Z"/>
<polyline class="t" points="807.9,547.1 809.1,547.5 810.3,548 811.5,548.5 812.7,549.1 813.9,549.8 815.1,550.5 816.4,551.3 817.6,552.1 818.9,552.9 820.1,553.7 821,554.2 821.8,554.7 822.6,555.3 823.4,555.8 824.2,556.3 824.9,556.8 825.5,557.4 826.1,557.9 826.7,558.5 827.1,559 827.5,559.6 827.8,560.2 828.1,560.9 828.4,561.6 828.7,562.3 828.9,563.1 829.1,563.9 829.3,564.7 829.5,565.6 829.6,566.4 829.7,567.2 829.8,568.1 829.9,569 829.9,569.9 829.9,570.7 829.9,571.6 829.8,572.5 829.7,573.4 829.6,574.3 829.4,575.1 829.2,576.1 829,577.1 828.7,578.1 828.4,579.1 828.1,580.1 827.8,581 827.4,582 827,583 826.6,583.9 826.1,584.9 825.7,585.8 825.2,586.7 824.7,587.7 824.2,588.6 823.6,589.5 823.1,590.4 822.5,591.2 821.9,592.1 821.3,593 820.6,593.8 819.9,594.8 819.2,595.7 818.4,596.7 817.7,597.6 816.9,598.5 816.1,599.4 815.3,600.2 814.5,601 813.7,601.8 812.9,602.5 811.6,603.5 810.3,604.5 808.9,605.4 807.5,606.3 806,607.2 804.6,608.1 803.1,609 801.6,609.9 800.1,610.9 798.6,611.8 794.6,614.4 790.7,617 786.8,619.6 782.8,622.2 778.9,624.8 775,627.4 771,630 767.1,632.6 763.2,635.2 759.3,637.8 744.2,647.8 729.1,657.8 714,667.8 699,677.8 683.9,687.8 668.8,697.8 653.7,707.8 638.7,717.8 623.6,727.8 608.6,737.8 593.5,747.9 578.5,757.9 563.5,767.9 548.4,777.9 533.4,787.9 518.4,798 503.4,808 488.4,818.1 473.5,828.3 458.5,838.5 454.7,841.1 450.8,843.9 447.1,846.7 443.3,849.5 439.6,852.3 435.8,855.2 432.1,858 428.4,860.8 424.6,863.6 420.9,866.3 416.7,869.3 412.5,872.3 408.3,875.4 404.1,878.4 399.9,881.4 395.7,884.3 391.4,887.3 387.2,890.2 382.9,893 378.6,895.8 376.6,897.1 374.6,898.3 372.6,899.5 370.5,900.7 368.4,901.8 366.3,902.9 364.3,903.9 362.1,904.8 360,905.7 357.9,906.6 356.8,906.9 355.6,907.3 354.4,907.5 353.2,907.8 352,908 350.7,908.1 349.5,908.2 348.2,908.2 346.9,908.2 345.7,908.2 344.6,908.1 343.5,908 342.4,907.9 341.3,907.6 340.2,907.4 339.1,907.1 337.9,906.8 336.8,906.4 335.7,906.1 334.6,905.7"/>
<polyline class="t" points="370.1,768.3 374.4,765.7 378.8,763.2 383.2,760.7 387.6,758.3 392.1,755.9 396.6,753.6 401.1,751.2 405.7,748.9 425.4,739.1 445.2,729.3 465.1,719.6 484.9,709.9 504.8,700.3 524.7,690.6 544.7,681 564.6,671.4 584.5,661.7 604.4,652 624.4,642.2 644.3,632.3 664.2,622.4 684.1,612.5 704,602.7 723.9,592.8 743.8,583 763.7,573.3 783.6,563.7 803.6,554.2 803.6,554.2 803.7,554.2 803.9,554.1 804.2,554.1 804.5,554.1 804.8,554.1 805.1,554.1 805.4,554.1 805.7,554.2 805.8,554.2"/>
<polyline class="t" points="371.9,887 370.5,887.8 369.2,888.7 367.8,889.5 366.4,890.4 365,891.3 363.6,892.2 362.2,893 360.7,893.8 359.3,894.7 357.8,895.4 356.6,896 355.5,896.5 354.3,897 353.1,897.5 351.9,898 350.7,898.4 349.5,898.8 348.3,899.2 347.1,899.6 345.9,899.9 345,900.1 344.1,900.3 343.2,900.5 342.3,900.6 341.4,900.7 340.4,900.8 339.4,900.9 338.4,900.9 337.4,900.8 336.4,900.7 335.4,900.4 334.3,900.2 333.3,899.9 332.2,899.6 331.1,899.2 330.1,898.7 329,898.2 328,897.6 327,897 326.1,896.2 325.2,895.4 324.4,894.5 323.6,893.5 322.9,892.5 322.2,891.5 321.6,890.4 321.1,889.4 320.6,888.3 320.1,887.3 319.7,886.2 319.2,884.7 318.7,883.1 318.2,881.5 317.8,880 317.4,878.4 317.1,876.8 316.8,875.2 316.5,873.6 316.3,872.1 316,870.5 315.9,869.4 315.8,868.2 315.7,867 315.6,865.9 315.6,864.7 315.5,863.6 315.5,862.4 315.5,861.3 315.6,860.2 315.6,859.1 315.7,857 315.7,854.9 315.7,852.8 315.7,850.6 315.8,848.4 315.9,846.2 316,843.9 316.3,841.7 316.6,839.4 317.1,837.2 317.7,834.6 318.4,832.1 319.2,829.5 320.1,827 321,824.5 322,822 323.1,819.5 324.2,817.1 325.4,814.7 326.6,812.4 328,810 329.5,807.7 331,805.4 332.6,803.2 334.2,801 335.9,798.8 337.7,796.7 339.4,794.6 341.2,792.6 343,790.6 344.9,788.7 346.8,786.8 348.7,785 350.7,783.2 352.7,781.5 354.7,779.7 356.7,778.1 358.8,776.4 360.8,774.8 362.9,773.2 364.3,772.1 365.8,771 367.3,770 368.8,768.9 370.4,767.9 371.9,766.9 373.5,766 375.2,765.1 376.8,764.2 378.5,763.4 400.4,752.7 422.4,742 444.3,731.4 466.3,720.9 488.4,710.4 510.4,699.9 532.4,689.4 554.5,678.9 576.5,668.4 598.5,657.8 614.5,650.2 630.5,642.5 646.5,634.9 662.5,627.2 678.5,619.6 694.5,611.9 710.5,604.3 726.5,596.6 742.5,589 758.5,581.3 763.6,578.9 768.7,576.4 773.8,573.9 778.9,571.3 784,568.8 789.1,566.3 794.3,563.9 799.4,561.5 804.5,559.2 809.7,557.1 811.2,556.7 812.5,556.9"/>
<polyline class="t" points="789.9,567.9 795,565.4 800.1,563.1 805.2,560.8 810.3,558.6 811.2,558.4 812.1,558.5 812.8,558.8 813.3,559.2 813.8,559.6 814.2,560.1 814.5,560.5 814.8,561 815,561.5 815.2,562 815.5,562.9 815.7,563.9 815.8,564.8 816,565.8 816,566.8 816.1,567.8 816.1,568.8 816.1,569.7 816.1,570.7 816,571.7 815.9,572.7 815.7,573.7 815.5,574.7 815.3,575.6 815.1,576.6 814.8,577.6 814.5,578.6 814.1,579.5 813.7,580.4 813.3,581.4 812.9,582.3 812.4,583.3 811.9,584.2 811.3,585.1 810.7,586 810.1,586.9 809.5,587.8 808.8,588.6 808.1,589.4 807.4,590.2 806.6,591 805.8,591.8 804.9,592.5 804,593.2 803.1,593.9 802.2,594.5 801.4,595.1 800.5,595.7 799.6,596.3 798.7,596.9 794,600.1 789.2,603.4 784.4,606.6 779.7,609.8 774.9,613 770.1,616.3 765.3,619.5 760.6,622.7 755.8,625.9 751,629.1 746,632.5 741,635.8 736,639.2 731,642.6 726,646 721,649.4 716,652.8 711,656.1 706,659.5 701,662.9 689,671 677,679.1 665,687.2 653,695.3 641,703.4 629,711.6 617,719.7 605,727.8 593,735.9 581,744 569,752.1 557,760.2 545,768.3 533,776.4 521,784.5 508.9,792.6 496.9,800.7 485,808.8 473,816.9 461,825.1 455.9,828.6 450.8,832.1 445.8,835.7 440.7,839.3 435.7,842.9 430.6,846.5 425.6,850.1 420.5,853.7 415.3,857.2 410.2,860.7 406.3,863.3 402.4,865.8 398.5,868.3 394.6,870.8 390.7,873.3 386.7,875.7 382.8,878.2 378.8,880.6 374.9,883.1 371,885.5 369.6,886.4 368.2,887.2 366.9,888.1 365.5,889 364.1,889.8 362.7,890.7 361.3,891.5 359.9,892.4 358.5,893.2 357,893.9 355.9,894.4 354.8,895 353.6,895.5 352.5,895.9 351.3,896.4 350.2,896.8 349,897.2 347.8,897.6 346.6,897.9 345.5,898.2 344.6,898.4 343.8,898.6 342.9,898.8 342.1,898.9 341.2,899.1 340.3,899.1 339.4,899.2 338.5,899.2 337.6,899.1 336.7,899 335.7,898.8 334.7,898.6 333.7,898.3 332.7,898 331.8,897.6 330.8,897.2 329.8,896.7 328.9,896.2 328,895.6 327.2,895"/>
<polyline class="o" points="799.2,561.1 804.3,558.8 809.5,556.6 811.1,556.2 812.7,556.4 813.8,556.9 814.7,557.5 815.4,558.1 815.9,558.7 816.4,559.3 816.7,559.9 817.1,560.6 817.3,561.4 817.6,562.4 817.8,563.5 818,564.5 818.1,565.6 818.2,566.6 818.3,567.7 818.3,568.7 818.3,569.8 818.3,570.9 818.2,571.9 818.1,573 817.9,574 817.7,575.1 817.5,576.2 817.2,577.2 816.9,578.3 816.5,579.3 816.2,580.3 815.8,581.3 815.3,582.3 814.8,583.3 814.3,584.3 813.8,585.3 813.2,586.3 812.6,587.2 811.9,588.2 811.2,589.1 810.5,590 809.8,590.9 809,591.8 808.1,592.6 807.2,593.5 806.3,594.2 805.4,595 804.4,595.6 803.5,596.3 802.6,596.9 801.7,597.5 800.8,598.1 800,598.7 795.2,602 790.4,605.2 785.7,608.4 780.9,611.7 776.1,614.9 771.3,618.1 766.6,621.3 761.8,624.5 757,627.7 752.2,630.9 747.2,634.3 742.2,637.7 737.2,641.1 732.2,644.4 727.2,647.8 722.2,651.2 717.2,654.6 712.2,658 707.2,661.3 702.2,664.7 690.2,672.8 678.2,680.9 666.2,689 654.2,697.2 642.2,705.3 630.2,713.4 618.2,721.5 606.2,729.6 594.2,737.7 582.2,745.8 570.2,753.9 558.2,762 546.2,770.1 534.2,778.2 522.2,786.3 510.2,794.4 498.2,802.5 486.2,810.6 474.2,818.7 462.3,826.9 457.2,830.4 452.1,833.9 447.1,837.5 442,841.1 437,844.7 431.9,848.3 426.8,851.9 421.7,855.5 416.6,859 411.4,862.5 407.5,865.1 403.6,867.7 399.7,870.2 395.8,872.7 391.8,875.2 387.9,877.6 383.9,880.1 380,882.5 376,884.9 372.1,887.4 370.8,888.2 369.4,889.1 368.1,890 366.7,890.8 365.3,891.7 363.9,892.6 362.5,893.4 361,894.3 359.5,895.1 358,895.9 356.8,896.4 355.7,897 354.5,897.5 353.3,898 352.1,898.4 350.9,898.9 349.7,899.3 348.5,899.7"/>
<polyline class="o" points="808.8,554.9 811.1,554.4 813.1,554.7 814.7,555.3 815.8,556 816.7,556.8 817.3,557.6 817.9,558.3 818.3,559.1 818.7,559.9 819.1,560.9 819.4,562 819.6,563.1 819.8,564.2 819.9,565.4 820,566.5 820.1,567.6 820.1,568.7 820.1,569.9 820.1,571 820,572.1 819.8,573.2 819.7,574.3 819.5,575.5 819.2,576.6 818.9,577.7 818.6,578.8 818.2,579.9 817.8,580.9 817.4,582 817,583 816.5,584.1 815.9,585.1 815.3,586.2 814.7,587.2 814.1,588.2 813.4,589.2 812.7,590.2 811.9,591.2 811.1,592.1 810.3,593 809.4,593.9 808.4,594.8 807.4,595.6 806.5,596.4 805.5,597.1 804.5,597.8 803.6,598.4 802.7,599 801.8,599.6 801,600.2 796.2,603.4 791.5,606.7 786.7,609.9 781.9,613.1 777.1,616.4 772.3,619.6 767.6,622.8 762.8,626 758,629.2 753.2,632.4 748.2,635.8 743.2,639.2 738.2,642.5 733.2,645.9 728.2,649.3 723.2,652.7 718.2,656.1 713.2,659.4 708.2,662.8 703.2,666.2 691.2,674.3 679.2,682.4 667.2,690.5 655.2,698.6 643.2,706.8 631.2,714.9 619.2,723 607.2,731.1 595.2,739.2 583.2,747.3 571.2,755.4 559.2,763.5 547.2,771.6 535.2,779.7 523.2,787.8 511.2,795.9 499.2,804 487.2,812.1 475.2,820.2 463.3,828.4 458.2,831.9 453.1,835.4 448.1,839 443.1,842.6 438,846.2 432.9,849.8 427.9,853.4 422.7,857 417.6,860.5 412.4,864 408.5,866.6 404.6,869.2 400.7,871.7 396.7,874.2 392.8,876.7 388.8,879.1 384.9,881.6 380.9,884 377,886.5 373.1,888.9 371.7,889.8 370.4,890.6"/>
<line class="ld" x1="567.8" y1="833" x2="752" y2="942"/>
<path class="of" d="M833.4,904.6 C835.2,904 837.5,904.7 839,905.7 C840.7,906.8 842,909 843,910.8 C843.5,911.8 843.3,913.1 843.6,914.2 C844.2,916.5 844.1,919.4 845.8,921 C858.4,932.2 873.2,941.8 886.5,952.6 C888.5,954.2 890.4,956.1 891.6,958.2 C892.3,959.5 892.4,961.3 892.1,962.8 C891.4,965.9 890.3,969.1 888.7,971.8 C885.8,976.6 882,980.8 878.6,985.3 C872.9,992.8 866.9,1000.1 861.6,1007.9 C856.7,1015.2 852.7,1023 848.1,1030.5 C845.1,1035.4 842.5,1040.6 839,1045 C836.5,1048.2 833.7,1051.7 830,1053.5 C815.7,1060.4 799.9,1064.9 785,1071 C761,1080.9 737.1,1091 713.5,1101.6 C710.8,1102.8 708.9,1106 706.1,1106.5 C701.5,1107.3 696.1,1106.7 691.5,1105.3 C686.3,1103.8 681.4,1100.8 676.8,1097.9 C671.6,1094.7 666.1,1091.3 662.1,1086.9 C658.4,1082.8 655.3,1077.6 653.6,1072.3 C651.8,1066.6 651.4,1060 651.7,1053.9 C652.2,1045.7 653.7,1037.4 656,1029.5 C658.4,1021.1 661.6,1012.6 665.8,1005 C670.1,997.1 675.5,989.4 681.7,983 C688.9,975.6 697.3,968.9 706.1,963.5 C720.5,954.7 736.2,947.8 751.4,940.2 C762.5,934.7 773.6,929.2 785,924.3 C801,917.4 817.2,910.2 833.4,904.6Z"/>
<path class="o" d="M836,908.5 C827.5,912 801.8,922.1 785,929.5 C773.6,934.5 762.5,940.2 751.4,945.8 C735.4,953.9 718.9,961.4 703.7,970.8 C694.8,976.3 686.3,982.9 679.2,990.4 C673.2,996.7 668.4,1004.6 664.6,1012.4 C661.1,1019.6 658.5,1027.7 657.2,1035.6 C655.9,1043.5 655.8,1052 656.6,1060 C657.1,1065 658.5,1070.3 660.9,1074.7 C663.6,1079.7 667.6,1084.4 671.9,1088.2 C675.8,1091.7 680.6,1094.5 685.3,1096.7 C689.9,1098.9 697.5,1100.7 700,1101.5" />
<path class="t" d="M842.4,916.5 C832.8,920.2 803.7,930.5 785,939 C766.4,947.4 748.7,957.6 730.6,967.1 C722.4,971.4 713.4,974.9 706.1,980.6 C698.3,986.8 691.4,994.7 685.3,1002.6 C680.4,1008.9 676.1,1016 673.1,1023.4 C670,1031.1 667.8,1039.5 667,1047.8 C666.2,1055.8 666.5,1064.5 668.2,1072.3 C669.3,1077.5 672.2,1082.9 675.6,1086.9 C678.7,1090.6 683.4,1093.2 687.8,1095.5 C691.6,1097.4 698,1098.8 700,1099.5" />
<path class="o" d="M842.6,919.5 C833,923.2 803.7,933.4 785,942 C766.4,950.5 748.2,960.4 730.6,970.8 C723.6,974.9 717.1,980.1 711,985.5 C704.1,991.5 696.9,997.7 691.5,1005 C686.7,1011.5 683.3,1019.4 680.5,1027 C678,1033.6 676.2,1040.8 675.6,1047.8 C675,1054.6 675.6,1061.8 676.8,1068.6 C677.6,1073.2 679.2,1078.1 681.7,1082 C684.1,1085.8 687.7,1089.3 691.5,1091.8 C694.8,1094 701.1,1095.3 703,1096" />
<path class="t" d="M843.5,918 C850.2,923.4 871,939.2 884,950.5 C886.1,952.3 888.2,955 888.8,957.5 C889.4,959.8 888.6,962.8 887.5,965 C884.5,970.8 880.3,976.1 876.5,981.5 C871,989.4 864.8,996.9 859.5,1005 C854.6,1012.4 850.5,1020.4 846,1028 C843,1033 840.5,1038.4 837,1043 C834.8,1045.9 830.3,1049.2 829,1050.5" />
<ellipse class="o" cx="727" cy="1035" rx="70.9" ry="39.7" transform="rotate(-65.6 727 1035)"/>
<ellipse class="t" cx="728" cy="1035" rx="68.1" ry="38.1" transform="rotate(-65.6 728 1035)"/>
<ellipse class="of" cx="731" cy="1041" rx="47.4" ry="22.2" transform="rotate(-55.4 731 1041)"/>
<ellipse class="t" cx="731" cy="1041" rx="44.1" ry="20.6" transform="rotate(-55.4 731 1041)"/>
<ellipse class="of" cx="732.4" cy="1042.9" rx="28.6" ry="15.7" transform="rotate(-58.1 732.4 1042.9)"/>
<ellipse class="t" cx="731.9" cy="1042.9" rx="30.9" ry="17" transform="rotate(-58.1 731.9 1042.9)"/>
<rect class="o" style="stroke-width:1.4" x="750.6" y="1007.1" width="9.2" height="6.6" rx="1.2" transform="rotate(59.9 755.2 1010.4)"/>
<rect class="t" x="752.2" y="1008.6" width="6" height="3.6" transform="rotate(59.9 755.2 1010.4)"/>
<ellipse class="o" cx="758" cy="1020.8" rx="3.6" ry="4.4" transform="rotate(-60 758 1020.8)"/>
<ellipse class="o" cx="758" cy="1020.8" rx="2" ry="2.5" transform="rotate(-60 758 1020.8)"/>
<rect class="o" style="stroke-width:1.4" x="749.9" y="1032.5" width="9.2" height="6.6" rx="1.2" transform="rotate(113.8 754.5 1035.8)"/>
<rect class="t" x="751.5" y="1034" width="6" height="3.6" transform="rotate(113.8 754.5 1035.8)"/>
<rect class="o" style="stroke-width:1.4" x="741.1" y="1048.7" width="9.2" height="6.6" rx="1.2" transform="rotate(127.2 745.7 1052)"/>
<rect class="t" x="742.7" y="1050.2" width="6" height="3.6" transform="rotate(127.2 745.7 1052)"/>
<rect class="o" style="stroke-width:1.4" x="728.9" y="1062.4" width="9.2" height="6.6" rx="1.2" transform="rotate(141.6 733.5 1065.7)"/>
<rect class="t" x="730.5" y="1063.9" width="6" height="3.6" transform="rotate(141.6 733.5 1065.7)"/>
<ellipse class="o" cx="720.8" cy="1073.8" rx="3.6" ry="4.4" transform="rotate(-60 720.8 1073.8)"/>
<ellipse class="o" cx="720.8" cy="1073.8" rx="2" ry="2.5" transform="rotate(-60 720.8 1073.8)"/>
<rect class="o" style="stroke-width:1.4" x="705.7" y="1071" width="9.2" height="6.6" rx="1.2" transform="rotate(-148.3 710.3 1074.3)"/>
<rect class="t" x="707.3" y="1072.5" width="6" height="3.6" transform="rotate(-148.3 710.3 1074.3)"/>
<rect class="o" style="stroke-width:1.4" x="700" y="1063.9" width="9.2" height="6.6" rx="1.2" transform="rotate(-98.8 704.6 1067.2)"/>
<rect class="t" x="701.6" y="1065.4" width="6" height="3.6" transform="rotate(-98.8 704.6 1067.2)"/>
<rect class="o" style="stroke-width:1.4" x="700.4" y="1050.8" width="9.2" height="6.6" rx="1.2" transform="rotate(-74.2 705 1054.1)"/>
<rect class="t" x="702" y="1052.3" width="6" height="3.6" transform="rotate(-74.2 705 1054.1)"/>
<ellipse class="o" cx="711.3" cy="1038" rx="3.6" ry="4.4" transform="rotate(-60 711.3 1038)"/>
<ellipse class="o" cx="711.3" cy="1038" rx="2" ry="2.5" transform="rotate(-60 711.3 1038)"/>
<rect class="o" style="stroke-width:1.4" x="717.5" y="1019.3" width="9.2" height="6.6" rx="1.2" transform="rotate(-46.1 722.1 1022.6)"/>
<rect class="t" x="719.1" y="1020.8" width="6" height="3.6" transform="rotate(-46.1 722.1 1022.6)"/>
<rect class="o" style="stroke-width:1.4" x="730.4" y="1008.1" width="9.2" height="6.6" rx="1.2" transform="rotate(-28.7 735 1011.4)"/>
<rect class="t" x="732" y="1009.6" width="6" height="3.6" transform="rotate(-28.7 735 1011.4)"/>
<rect class="o" style="stroke-width:1.4" x="742.3" y="1003.7" width="9.2" height="6.6" rx="1.2" transform="rotate(4.4 746.9 1007)"/>
<rect class="t" x="743.9" y="1005.2" width="6" height="3.6" transform="rotate(4.4 746.9 1007)"/>
<path class="o" d="M712,975 C711.3,976.2 708.3,979.5 708,982 C707.7,984.5 708.5,988 710,990 C711.2,991.5 714.1,992.8 716,992.5 C718.1,992.1 720.8,990 722,988 C723.5,985.5 724.6,981.6 724,979 C723.6,977.1 721,975.2 719,974.5 C717,973.8 713.2,974.9 712,975" />
<path class="t" d="M714,977.5 C713.6,978.4 711.7,981.1 711.5,983 C711.3,984.9 711.8,987.8 713,989 C714,990 716.9,990.3 718,989.5 C719.6,988.3 720.5,984.1 721,983" />
<path class="o" d="M750,983 C749.8,984 748.5,987.2 749,989 C749.5,990.9 751.3,993.3 753,994 C754.9,994.8 758.3,994.7 760,993.5 C761.7,992.3 763,989.2 763,987 C763,985 761.6,982.1 760,981 C758.6,980 755.9,980.1 754,980.5 C752.5,980.8 750.7,982.6 750,983" />
<path class="o" d="M704,1083 C703.3,1084.2 700.2,1087.6 700,1090 C699.8,1092.3 701.3,1095.6 703,1097 C704.6,1098.3 707.9,1098.6 710,1098 C712.3,1097.3 715.4,1095.1 716,1093 C716.7,1090.8 715.4,1087.1 714,1085 C713,1083.5 710.8,1082.4 709,1082 C707.4,1081.7 704.8,1082.8 704,1083" />
<path class="t" d="M706,1086 C705.7,1086.8 703.8,1089.4 704,1091 C704.2,1092.4 705.7,1094.5 707,1095 C708.3,1095.5 711.2,1094.2 712,1094" />
<polyline class="t" points="722,975 738,990 744,999"/>
<path class="of" d="M811.6,967.6 Q813.1,965.6 810.9,966.7 L776.9,983.1 Q774.7,984.2 775.5,986.6 L781.8,1003.8 Q782.6,1006.2 784.1,1004.2 L811.6,967.6Z" />
<polygon class="t" points="809.4,968.8 777.2,984.4 783.8,1002.9"/>
<path class="of" d="M824.1,967 Q824.4,964.5 822.8,966.4 L789.8,1004.9 Q788.2,1006.8 790.4,1008 L814.3,1021.4 Q816.5,1022.6 816.8,1020.1 L824.1,967Z" />
<polygon class="t" points="822,969.9 791.6,1005.4 815.4,1018.7"/>
<path class="of" d="M805,1020.8 Q807.4,1021.5 805.3,1022.8 L771.1,1043.9 Q769,1045.2 769.7,1042.8 L777.4,1014.8 Q778.1,1012.4 780.5,1013.1 L805,1020.8Z" />
<polygon class="t" points="803.8,1022.3 771.5,1042.2 779.2,1014.6"/>
<path class="of" d="M865.6,945.4 Q867.3,943.6 865,944.6 L843.6,954 Q841.3,955 843.2,956.6 L848.1,960.4 Q850,962 851.7,960.2 L865.6,945.4Z" />
<polygon class="t" points="865,945.2 843.2,954.8 850.5,960.6"/>
<path class="of" d="M848.4,961 Q850.3,959.4 847.9,960.1 L830.2,965.3 Q827.8,966 828.3,968.4 L829.5,973.9 Q830,976.3 831.9,974.7 L848.4,961Z" />
<polygon class="t" points="848,960.7 829.1,966.2 831,974.8"/>
<path class="of" d="M888.2,957.5 Q889.5,956 887.6,956.7 L875.9,961.3 Q874,962 873.9,964 L873.1,974 Q873,976 874.3,974.5 L888.2,957.5Z" />
<polygon class="t" points="887.8,957.4 874.8,962.4 873.9,974.2"/>
<path class="of" d="M844.6,977.9 Q845.8,976.3 843.9,976.9 L830.4,981.4 Q828.5,982 828.7,984 L829.8,994.6 Q830,996.6 831.2,995 L844.6,977.9Z" />
<polygon class="t" points="844,977.7 829.5,982.5 830.8,994.7"/>
<path class="of" d="M869.6,965.9 Q871,964.5 869.1,965.1 L847.9,971.9 Q846,972.5 846,974.5 L846,986.7 Q846,988.7 847.4,987.3 L869.6,965.9Z" />
<polygon class="t" points="868.3,966.2 847.3,972.9 847.3,986.5"/>
<path class="of" d="M846.7,994.8 Q848,993.3 846.4,994.6 L827.6,1009.7 Q826,1011 826,1013 L826,1016.1 Q826,1018.1 827.3,1016.6 L846.7,994.8Z" />
<polygon class="t" points="845.7,995.6 827.2,1010.4 827.2,1016.4"/>
<path class="of" d="M874.8,983.3 Q876.3,982 874.6,983.1 L836.2,1007.9 Q834.5,1009 834.9,1011 L835.6,1015 Q836,1017 837.5,1015.7 L874.8,983.3Z" />
<polygon class="t" points="871.9,985.3 836.8,1008 838.1,1014.7"/>
<path class="of" d="M862,947 C864,946.4 870.2,943.5 874,943.5 C875.7,943.5 878.1,945.3 878.6,947 C879.5,950.2 879.2,954.8 878,958 C877,960.6 874.4,963.1 872,964.5 C869.8,965.8 866,966.8 864,966 C862.3,965.3 861.2,962.2 861,960 C860.6,955.8 861.8,949.2 862,947" />
<ellipse class="o" cx="868.7" cy="955" rx="3.5" ry="4.2" transform="rotate(-30 868.7 955)"/>
<line class="ld" x1="720.8" y1="1030.7" x2="817" y2="1083.5"/>
<line class="ld" x1="868.4" y1="953.7" x2="905" y2="978.6"/>
<line class="ld" x1="839" y1="988.7" x2="873" y2="1007.9"/>
<polygon class="of" points="798.5,1127.5 798.9,1121.9 799.8,1116.2 801,1110.4 802.7,1104.7 804.7,1099 807.2,1093.3 810,1087.8 813.1,1082.4 816.6,1077.3 820.4,1072.4 824.5,1067.7 828.8,1063.4 833.2,1059.4 837.9,1055.8 842.7,1052.7 847.6,1049.9 852.5,1047.6 857.5,1045.8 862.5,1044.4 867.4,1043.5 872.2,1043.2 876.9,1043.3 881.4,1044 885.7,1045.1 889.8,1046.7 891.3,1047.5 895.1,1049.7 898.7,1052.2 901.9,1055.2 904.8,1058.6 907.3,1062.4 909.5,1066.6 911.2,1071.1 912.5,1075.9 913.5,1081 913.9,1086.2 914,1091.7 913.6,1097.3 912.8,1103 911.5,1108.8 909.8,1114.5 907.8,1120.2 905.3,1125.9 902.5,1131.4 899.4,1136.8 895.9,1141.9 892.1,1146.8 888,1151.5 883.7,1155.8 879.3,1159.8 874.6,1163.4 869.8,1166.5 864.9,1169.3 860,1171.6 855,1173.4 850,1174.8 845.1,1175.7 840.3,1176 835.6,1175.9 831.1,1175.2 826.8,1174.1 822.7,1172.5 821.2,1171.7 817.4,1169.5 813.8,1167 810.6,1164 807.7,1160.6 805.2,1156.8 803,1152.6 801.3,1148.1 800,1143.3 799,1138.2 798.6,1133"/>
<ellipse class="of" cx="857" cy="1110" rx="71.4" ry="50.1" transform="rotate(-57.7 857 1110)"/>
<ellipse class="t" cx="857" cy="1110" rx="69.6" ry="48.8" transform="rotate(-57.7 857 1110)"/>
<line x1="894.8" y1="1067.2" x2="901.5" y2="1059.5" stroke="#222" stroke-width="1"/>
<line x1="896.6" y1="1069.7" x2="903.7" y2="1062.5" stroke="#222" stroke-width="1"/>
<line x1="898.3" y1="1072.4" x2="905.7" y2="1065.7" stroke="#222" stroke-width="1"/>
<line x1="899.7" y1="1075.4" x2="907.4" y2="1069.2" stroke="#222" stroke-width="1"/>
<line x1="900.9" y1="1078.5" x2="908.8" y2="1072.9" stroke="#222" stroke-width="1"/>
<line x1="901.9" y1="1081.8" x2="909.9" y2="1076.8" stroke="#222" stroke-width="1"/>
<line x1="902.5" y1="1085.3" x2="910.7" y2="1080.9" stroke="#222" stroke-width="1"/>
<line x1="903" y1="1088.9" x2="911.2" y2="1085.1" stroke="#222" stroke-width="1"/>
<line x1="903.2" y1="1092.6" x2="911.4" y2="1089.5" stroke="#222" stroke-width="1"/>
<line x1="903.1" y1="1096.5" x2="911.3" y2="1094.1" stroke="#222" stroke-width="1"/>
<line x1="902.7" y1="1100.4" x2="910.9" y2="1098.7" stroke="#222" stroke-width="1"/>
<line x1="902.2" y1="1104.3" x2="910.2" y2="1103.3" stroke="#222" stroke-width="1"/>
<line x1="901.3" y1="1108.3" x2="909.2" y2="1108" stroke="#222" stroke-width="1"/>
<line x1="900.2" y1="1112.3" x2="908" y2="1112.7" stroke="#222" stroke-width="1"/>
<line x1="898.9" y1="1116.3" x2="906.4" y2="1117.4" stroke="#222" stroke-width="1"/>
<line x1="897.3" y1="1120.3" x2="904.5" y2="1122.1" stroke="#222" stroke-width="1"/>
<line x1="895.5" y1="1124.2" x2="902.4" y2="1126.7" stroke="#222" stroke-width="1"/>
<line x1="893.5" y1="1128" x2="900.1" y2="1131.2" stroke="#222" stroke-width="1"/>
<line x1="891.3" y1="1131.7" x2="897.4" y2="1135.6" stroke="#222" stroke-width="1"/>
<line x1="888.9" y1="1135.3" x2="894.6" y2="1139.8" stroke="#222" stroke-width="1"/>
<line x1="886.3" y1="1138.7" x2="891.6" y2="1143.9" stroke="#222" stroke-width="1"/>
<line x1="883.6" y1="1142" x2="888.3" y2="1147.8" stroke="#222" stroke-width="1"/>
<line x1="880.7" y1="1145.1" x2="884.9" y2="1151.4" stroke="#222" stroke-width="1"/>
<line x1="877.6" y1="1148" x2="881.3" y2="1154.9" stroke="#222" stroke-width="1"/>
<line x1="874.5" y1="1150.7" x2="877.6" y2="1158" stroke="#222" stroke-width="1"/>
<line x1="871.3" y1="1153.2" x2="873.8" y2="1161" stroke="#222" stroke-width="1"/>
<line x1="867.9" y1="1155.5" x2="869.9" y2="1163.6" stroke="#222" stroke-width="1"/>
<line x1="864.5" y1="1157.4" x2="865.9" y2="1165.9" stroke="#222" stroke-width="1"/>
<line x1="861.1" y1="1159.1" x2="861.9" y2="1167.9" stroke="#222" stroke-width="1"/>
<line x1="857.7" y1="1160.6" x2="857.8" y2="1169.6" stroke="#222" stroke-width="1"/>
<line x1="854.2" y1="1161.7" x2="853.7" y2="1171" stroke="#222" stroke-width="1"/>
<line x1="850.8" y1="1162.6" x2="849.7" y2="1172" stroke="#222" stroke-width="1"/>
<line x1="847.4" y1="1163.2" x2="845.7" y2="1172.7" stroke="#222" stroke-width="1"/>
<line x1="844" y1="1163.5" x2="841.7" y2="1173" stroke="#222" stroke-width="1"/>
<line x1="840.8" y1="1163.4" x2="837.9" y2="1173" stroke="#222" stroke-width="1"/>
<line x1="821.3" y1="1155.1" x2="814.9" y2="1163.2" stroke="#222" stroke-width="1"/>
<line x1="819.2" y1="1152.8" x2="812.5" y2="1160.5" stroke="#222" stroke-width="1"/>
<line x1="817.4" y1="1150.3" x2="810.3" y2="1157.5" stroke="#222" stroke-width="1"/>
<line x1="815.7" y1="1147.6" x2="808.3" y2="1154.3" stroke="#222" stroke-width="1"/>
<line x1="814.3" y1="1144.6" x2="806.6" y2="1150.8" stroke="#222" stroke-width="1"/>
<line x1="813.1" y1="1141.5" x2="805.2" y2="1147.1" stroke="#222" stroke-width="1"/>
<line x1="812.1" y1="1138.2" x2="804.1" y2="1143.2" stroke="#222" stroke-width="1"/>
<line x1="811.5" y1="1134.7" x2="803.3" y2="1139.1" stroke="#222" stroke-width="1"/>
<line x1="811" y1="1131.1" x2="802.8" y2="1134.9" stroke="#222" stroke-width="1"/>
<line x1="810.8" y1="1127.4" x2="802.6" y2="1130.5" stroke="#222" stroke-width="1"/>
<line x1="810.9" y1="1123.5" x2="802.7" y2="1125.9" stroke="#222" stroke-width="1"/>
<line x1="811.3" y1="1119.6" x2="803.1" y2="1121.3" stroke="#222" stroke-width="1"/>
<line x1="811.8" y1="1115.7" x2="803.8" y2="1116.7" stroke="#222" stroke-width="1"/>
<line x1="812.7" y1="1111.7" x2="804.8" y2="1112" stroke="#222" stroke-width="1"/>
<line x1="813.8" y1="1107.7" x2="806" y2="1107.3" stroke="#222" stroke-width="1"/>
<line x1="815.1" y1="1103.7" x2="807.6" y2="1102.6" stroke="#222" stroke-width="1"/>
<line x1="816.7" y1="1099.7" x2="809.5" y2="1097.9" stroke="#222" stroke-width="1"/>
<line x1="818.5" y1="1095.8" x2="811.6" y2="1093.3" stroke="#222" stroke-width="1"/>
<line x1="820.5" y1="1092" x2="813.9" y2="1088.8" stroke="#222" stroke-width="1"/>
<line x1="822.7" y1="1088.3" x2="816.6" y2="1084.4" stroke="#222" stroke-width="1"/>
<line x1="825.1" y1="1084.7" x2="819.4" y2="1080.2" stroke="#222" stroke-width="1"/>
<line x1="827.7" y1="1081.3" x2="822.4" y2="1076.1" stroke="#222" stroke-width="1"/>
<line x1="830.4" y1="1078" x2="825.7" y2="1072.2" stroke="#222" stroke-width="1"/>
<line x1="833.3" y1="1074.9" x2="829.1" y2="1068.6" stroke="#222" stroke-width="1"/>
<line x1="836.4" y1="1072" x2="832.7" y2="1065.1" stroke="#222" stroke-width="1"/>
<line x1="839.5" y1="1069.3" x2="836.4" y2="1062" stroke="#222" stroke-width="1"/>
<line x1="842.7" y1="1066.8" x2="840.2" y2="1059" stroke="#222" stroke-width="1"/>
<line x1="846.1" y1="1064.5" x2="844.1" y2="1056.4" stroke="#222" stroke-width="1"/>
<line x1="849.5" y1="1062.6" x2="848.1" y2="1054.1" stroke="#222" stroke-width="1"/>
<line x1="852.9" y1="1060.9" x2="852.1" y2="1052.1" stroke="#222" stroke-width="1"/>
<line x1="856.3" y1="1059.4" x2="856.2" y2="1050.4" stroke="#222" stroke-width="1"/>
<line x1="859.8" y1="1058.3" x2="860.3" y2="1049" stroke="#222" stroke-width="1"/>
<line x1="863.2" y1="1057.4" x2="864.3" y2="1048" stroke="#222" stroke-width="1"/>
<line x1="866.6" y1="1056.8" x2="868.3" y2="1047.3" stroke="#222" stroke-width="1"/>
<line x1="870" y1="1056.5" x2="872.3" y2="1047" stroke="#222" stroke-width="1"/>
<line x1="873.2" y1="1056.6" x2="876.1" y2="1047" stroke="#222" stroke-width="1"/>
<line x1="876.4" y1="1056.9" x2="879.9" y2="1047.4" stroke="#222" stroke-width="1"/>
<line x1="879.5" y1="1057.5" x2="883.5" y2="1048.1" stroke="#222" stroke-width="1"/>
<line x1="882.4" y1="1058.4" x2="887" y2="1049.2" stroke="#222" stroke-width="1"/>
<ellipse class="t" cx="855.4" cy="1112.9" rx="46.5" ry="31.5" transform="rotate(-58.9 855.4 1112.9)"/>
<path class="of" d="M833.6,1094.8 C830.8,1099.3 829.3,1104.8 828,1110 C826.4,1116.4 824.7,1123.2 824.9,1129.7 C825,1134.2 826.6,1139.3 829,1143 C831.2,1146.3 834.9,1149.6 838.6,1150.9 C842.6,1152.3 847.7,1151.8 852,1151 C857.2,1150.1 863,1148.8 867.2,1145.9 C871.6,1142.8 875.3,1137.8 878,1133 C880.7,1128.2 882.3,1122.6 883.4,1117.2 C884.6,1111.6 884.7,1105.7 885,1100 C885.2,1096.6 885.4,1093.1 884.7,1089.8 C883.8,1085.7 882.1,1081.6 880,1078 C878.8,1076 876.9,1073.5 874.7,1073 C870.2,1071.9 864.4,1071.6 859.8,1073 C854.4,1074.7 849.3,1078.6 844.8,1082.3 C840.5,1085.8 836.4,1090.1 833.6,1094.8Z"/>
<ellipse class="of" cx="888.4" cy="1063.6" rx="6.2" ry="5.6" transform="rotate(-50 888.4 1063.6)"/>
<ellipse class="o" cx="888.4" cy="1063.6" rx="4.6" ry="4.1" transform="rotate(-50 888.4 1063.6)"/>
<line class="t" x1="884.8" y1="1063.2" x2="892" y2="1064"/>
<line class="t" x1="888.7" y1="1060.2" x2="888.1" y2="1067"/>
<ellipse class="of" cx="828.6" cy="1163.3" rx="6.2" ry="5.6" transform="rotate(-50 828.6 1163.3)"/>
<ellipse class="o" cx="828.6" cy="1163.3" rx="4.6" ry="4.1" transform="rotate(-50 828.6 1163.3)"/>
<line class="t" x1="825" y1="1162.9" x2="832.2" y2="1163.7"/>
<line class="t" x1="828.9" y1="1159.9" x2="828.3" y2="1166.7"/>
<line class="ld" x1="833.6" y1="1094.8" x2="922.1" y2="1143.4"/>
<line class="ld" x1="922.5" y1="1143.4" x2="922.5" y2="1282"/>
<polyline class="ld" points="889,1064 923.3,1086.1"/>
<polyline class="ld" points="828.6,1163.3 863.5,1185.8"/>
<polygon class="of" points="757.2,845.1 781.7,857.6 785.3,850.4 760.8,837.9"/>
<polyline class="t" points="762.2,847.6 761.9,847.2 761.6,846.7 761.6,846 761.7,845.1 762,844.1 762.4,843.2 762.9,842.3 763.5,841.5 764.1,840.9 764.7,840.5 765.3,840.3 765.8,840.4"/>
<polyline class="t" points="764.5,848.7 764.1,848.4 763.9,847.8 763.8,847.1 764,846.2 764.2,845.3 764.6,844.3 765.2,843.4 765.8,842.6 766.4,842 767,841.6 767.6,841.5 768,841.5"/>
<polyline class="t" points="766.7,849.8 766.4,849.5 766.1,848.9 766.1,848.2 766.2,847.3 766.5,846.4 766.9,845.4 767.4,844.5 768,843.8 768.6,843.2 769.2,842.7 769.8,842.6 770.3,842.7"/>
<polyline class="t" points="769,851 768.6,850.6 768.4,850.1 768.3,849.3 768.5,848.5 768.7,847.5 769.1,846.6 769.7,845.7 770.3,844.9 770.9,844.3 771.5,843.9 772.1,843.7 772.5,843.8"/>
<polyline class="t" points="771.2,852.1 770.9,851.7 770.6,851.2 770.6,850.5 770.7,849.6 771,848.6 771.4,847.7 771.9,846.8 772.5,846 773.1,845.4 773.7,845 774.3,844.8 774.8,844.9"/>
<polyline class="t" points="773.5,853.2 773.1,852.9 772.9,852.3 772.8,851.6 773,850.7 773.2,849.8 773.6,848.8 774.2,847.9 774.8,847.1 775.4,846.5 776,846.1 776.6,846 777,846"/>
<polyline class="t" points="775.7,854.3 775.4,854 775.1,853.4 775.1,852.7 775.2,851.8 775.5,850.9 775.9,849.9 776.4,849 777,848.3 777.6,847.7 778.2,847.2 778.8,847.1 779.3,847.2"/>
<polyline class="t" points="778,855.5 777.6,855.1 777.4,854.6 777.3,853.8 777.5,853 777.7,852 778.1,851.1 778.7,850.2 779.3,849.4 779.9,848.8 780.5,848.4 781.1,848.2 781.5,848.3"/>
<polyline class="t" points="780.2,856.6 779.9,856.2 779.6,855.7 779.6,855 779.7,854.1 780,853.1 780.4,852.2 780.9,851.3 781.5,850.5 782.1,849.9 782.7,849.5 783.3,849.3 783.8,849.4"/>
<ellipse class="of" cx="783.5" cy="854" rx="4" ry="2.4" transform="rotate(-64 783.5 854)"/>
<polygon class="of" points="744.9,841.9 745,841.1 745,840.4 745.2,839.6 745.3,838.8 745.5,838.1 745.8,837.3 746.1,836.5 746.5,835.8 746.9,835 747.3,834.3 747.7,833.6 748.2,832.9 748.7,832.3 749.2,831.8 749.8,831.2 750.4,830.8 750.9,830.4 751.5,830 752.1,829.7 752.6,829.5 753.2,829.3 753.7,829.2 754.3,829.2 754.8,829.3 755.2,829.4 755.7,829.6 764.2,833.6 764.6,833.8 765,834.1 765.4,834.5 765.7,834.9 765.9,835.4 766.2,836 766.3,836.5 766.5,837.2 766.5,837.8 766.6,838.5 766.5,839.3 766.5,840 766.3,840.8 766.2,841.6 766,842.3 765.7,843.1 765.4,843.9 765,844.6 764.6,845.4 764.2,846.1 763.8,846.8 763.3,847.5 762.8,848.1 762.2,848.6 761.7,849.2 761.1,849.6 760.6,850 760,850.4 759.4,850.7 758.9,850.9 758.3,851.1 757.8,851.1 757.2,851.2 756.7,851.1 756.2,851 755.8,850.8 747.3,846.8 746.9,846.6 746.5,846.3 746.1,845.9 745.8,845.5 745.6,845 745.3,844.4 745.2,843.9 745,843.2 745,842.6"/>
<ellipse class="of" cx="751.5" cy="838.2" rx="9.6" ry="5.6" transform="rotate(-64 751.5 838.2)"/>
<ellipse class="t" cx="751.5" cy="838.2" rx="5.3" ry="3.1" transform="rotate(-64 751.5 838.2)"/>
<polyline class="ld" points="783,856 794.8,862.8 794.8,913.3 803.9,916.3"/>
<polyline class="ld" points="906.8,923.5 899.5,920.5 899.5,972 902.8,977.2"/>
<polygon class="of" points="903.5,928 906.8,918.9 913.2,918.9 919.2,921.9 922.5,931 919.2,940.1 912.8,940.1 906.8,937.1"/>
<polygon class="o" points="917.5,928.5 914.3,937.6 907.7,937.6 904.5,928.5 907.7,919.4 914.3,919.4"/>
<ellipse class="of" cx="922" cy="933" rx="8.6" ry="6.4" transform="rotate(-65 922 933)"/>
<ellipse class="of" cx="924.5" cy="934.2" rx="7.6" ry="5.6" transform="rotate(-65 924.5 934.2)"/>
<ellipse class="o" cx="925.2" cy="934.5" rx="4" ry="3" transform="rotate(-65 925.2 934.5)"/>
<line class="t" x1="922.5" y1="931" x2="924" y2="938.5"/>
<line class="t" x1="923.7" y1="931.6" x2="925.2" y2="939.1"/>
<line class="t" x1="924.9" y1="932.2" x2="926.4" y2="939.7"/>
<line class="t" x1="926.1" y1="932.8" x2="927.6" y2="940.3"/>
<polygon class="of" points="902.7,984.2 902.7,983.4 902.8,982.6 903,981.8 903.2,981 903.5,980.2 903.8,979.4 904.2,978.6 904.6,977.9 905.1,977.2 905.6,976.5 906.1,975.9 906.7,975.3 907.3,974.8 908,974.3 908.6,973.9 909.3,973.5 910,973.2 910.6,973 911.3,972.9 912,972.8 912.6,972.8 913.3,972.8 913.9,972.9 914.5,973.1 915.1,973.4 926.1,978.9 926.6,979.2 927.1,979.6 927.6,980 928,980.6 928.3,981.1 928.6,981.7 928.9,982.4 929.1,983.1 929.2,983.8 929.3,984.5 929.3,985.3 929.3,986.1 929.2,986.9 929,987.7 928.8,988.5 928.5,989.3 928.2,990.1 927.8,990.9 927.4,991.6 926.9,992.3 926.4,993 925.9,993.6 925.3,994.2 924.7,994.7 924,995.2 923.4,995.6 922.7,996 922,996.2 921.4,996.5 920.7,996.6 920,996.7 919.4,996.7 918.7,996.7 918.1,996.6 917.5,996.4 916.9,996.1 905.9,990.6 905.4,990.3 904.9,989.9 904.4,989.5 904,988.9 903.7,988.4 903.4,987.8 903.1,987.1 902.9,986.4 902.8,985.7 902.7,985"/>
<polygon class="of" points="908.8,986.5 914.2,975.2 924.8,975.2 930.8,978.2 936.2,989.5 930.8,1000.8 920.2,1000.8 914.2,997.8"/>
<polygon class="of" points="936.2,989.5 930.8,1000.8 920.2,1000.8 914.8,989.5 920.2,978.2 930.8,978.2"/>
<line class="t" x1="930.8" y1="1000.8" x2="924.8" y2="997.8"/>
<line class="t" x1="920.2" y1="1000.8" x2="914.2" y2="997.8"/>
<line class="t" x1="914.8" y1="989.5" x2="908.8" y2="986.5"/>
<ellipse class="of" cx="926" cy="989.5" rx="7.2" ry="5.5" transform="rotate(-62 926 989.5)"/>
<ellipse class="t" cx="926" cy="989.5" rx="4.9" ry="3.9" transform="rotate(-62 926 989.5)"/>
<line class="t" x1="919.8" y1="985.5" x2="925.3" y2="991.5"/>
<line class="t" x1="921.4" y1="986" x2="926.9" y2="992"/>
<line class="t" x1="923" y1="986.5" x2="928.5" y2="992.5"/>
<line class="t" x1="924.6" y1="987" x2="930.1" y2="993"/>
<line class="t" x1="926.2" y1="987.5" x2="931.7" y2="993.5"/>
<polygon class="of" points="871.2,1009.6 871.2,1008.8 871.3,1008.1 871.5,1007.3 871.7,1006.5 872,1005.8 872.3,1005 872.6,1004.3 873,1003.6 873.5,1002.9 874,1002.2 874.5,1001.6 875.1,1001.1 875.6,1000.6 876.2,1000.1 876.9,999.7 877.5,999.4 878.2,999.1 878.8,998.9 879.5,998.7 880.1,998.6 880.8,998.6 881.4,998.7 882,998.8 882.6,999 883.1,999.2 894.1,1004.7 894.6,1005 895.1,1005.4 895.5,1005.8 895.9,1006.3 896.2,1006.9 896.5,1007.5 896.8,1008.1 897,1008.7 897.1,1009.4 897.2,1010.1 897.2,1010.9 897.2,1011.7 897.1,1012.4 896.9,1013.2 896.7,1014 896.4,1014.7 896.1,1015.5 895.8,1016.2 895.4,1016.9 894.9,1017.6 894.4,1018.3 893.9,1018.9 893.3,1019.4 892.8,1019.9 892.1,1020.4 891.5,1020.8 890.9,1021.1 890.2,1021.4 889.6,1021.6 888.9,1021.8 888.3,1021.9 887.6,1021.9 887,1021.8 886.4,1021.7 885.8,1021.5 885.3,1021.3 874.3,1015.8 873.8,1015.5 873.3,1015.1 872.9,1014.7 872.5,1014.2 872.1,1013.6 871.9,1013 871.6,1012.4 871.4,1011.8 871.3,1011.1 871.2,1010.4"/>
<polygon class="of" points="877.5,1012 882.6,1001.2 892.8,1001.2 898.8,1004.2 904,1015 898.8,1025.8 888.6,1025.8 882.6,1022.8"/>
<polygon class="of" points="904,1015 898.8,1025.8 888.6,1025.8 883.5,1015 888.6,1004.2 898.8,1004.2"/>
<line class="t" x1="898.8" y1="1025.8" x2="892.8" y2="1022.8"/>
<line class="t" x1="888.6" y1="1025.8" x2="882.6" y2="1022.8"/>
<line class="t" x1="883.5" y1="1015" x2="877.5" y2="1012"/>
<ellipse class="of" cx="894.2" cy="1015" rx="6.9" ry="5.2" transform="rotate(-62 894.2 1015)"/>
<ellipse class="t" cx="894.2" cy="1015" rx="4.8" ry="3.8" transform="rotate(-62 894.2 1015)"/>
<line class="t" x1="888" y1="1011" x2="893.5" y2="1017"/>
<line class="t" x1="889.6" y1="1011.5" x2="895.1" y2="1017.5"/>
<line class="t" x1="891.2" y1="1012" x2="896.7" y2="1018"/>
<line class="t" x1="892.8" y1="1012.5" x2="898.3" y2="1018.5"/>
<line class="t" x1="894.4" y1="1013" x2="899.9" y2="1019"/>
<polyline class="ld" points="922.5,1281.5 780.5,1203 780.5,1334.2 792,1341"/>
<polygon class="of" points="784,1360.2 784.1,1358 784.3,1355.8 784.7,1353.5 785.2,1351.2 785.9,1348.9 786.7,1346.6 787.6,1344.4 788.6,1342.2 789.8,1340.1 791.1,1338.1 792.5,1336.2 794,1334.4 795.5,1332.8 797.1,1331.2 798.8,1329.9 800.5,1328.7 802.2,1327.7 803.9,1326.9 805.7,1326.2 807.4,1325.8 809.1,1325.5 810.8,1325.5 812.4,1325.7 813.9,1326 815.4,1326.5 816.8,1327.3 827.8,1333.3 829.1,1334.2 830.3,1335.3 831.3,1336.6 832.3,1338 833.1,1339.6 833.8,1341.4 834.3,1343.2 834.7,1345.2 834.9,1347.2 835,1349.4 834.9,1351.6 834.7,1353.8 834.3,1356.1 833.8,1358.4 833.1,1360.7 832.3,1363 831.4,1365.2 830.4,1367.4 829.2,1369.5 827.9,1371.5 826.5,1373.4 825,1375.2 823.5,1376.8 821.9,1378.3 820.2,1379.7 818.5,1380.9 816.8,1381.9 815.1,1382.7 813.3,1383.4 811.6,1383.8 809.9,1384.1 808.2,1384.1 806.6,1384 805.1,1383.6 803.6,1383 802.2,1382.3 791.2,1376.3 789.9,1375.4 788.7,1374.3 787.7,1373 786.7,1371.5 785.9,1370 785.2,1368.2 784.7,1366.4 784.3,1364.4 784.1,1362.3"/>
<ellipse class="of" cx="815" cy="1357.8" rx="27.7" ry="18" transform="rotate(-65.7 815 1357.8)"/>
<ellipse class="t" cx="815" cy="1357.8" rx="24.2" ry="15.8" transform="rotate(-65.7 815 1357.8)"/>
<ellipse class="o" cx="815" cy="1357.8" rx="17.2" ry="11.2" transform="rotate(-65.7 815 1357.8)"/>
<ellipse class="t" cx="814" cy="1358.3" rx="13.8" ry="9" transform="rotate(-65.7 814 1358.3)"/>
<ellipse class="o" cx="813.8" cy="1358.8" rx="12.2" ry="7.9" transform="rotate(-65.7 813.8 1358.8)"/>
<line class="ld" x1="814" y1="1357" x2="851" y2="1378"/>
<polygon class="of" points="846.1,1388.7 846.1,1387.9 846.2,1387.1 846.4,1386.2 846.6,1385.4 846.9,1384.5 847.2,1383.7 847.5,1382.9 847.9,1382 848.4,1381.2 848.9,1380.5 849.4,1379.7 850,1379 850.5,1378.4 851.1,1377.8 851.8,1377.3 852.4,1376.8 853,1376.3 853.7,1376 854.4,1375.7 855,1375.5 855.6,1375.3 856.2,1375.3 856.8,1375.3 857.4,1375.4 857.9,1375.5 858.4,1375.7 872.5,1383.3 873,1383.6 873.4,1383.9 873.8,1384.3 874.1,1384.8 874.4,1385.4 874.7,1386 874.8,1386.6 875,1387.3 875,1388.1 875,1388.8 875,1389.6 874.9,1390.5 874.7,1391.3 874.5,1392.2 874.3,1393 874,1393.8 873.6,1394.7 873.2,1395.5 872.7,1396.3 872.2,1397.1 871.7,1397.8 871.1,1398.5 870.6,1399.1 870,1399.7 869.3,1400.3 868.7,1400.8 868.1,1401.2 867.4,1401.5 866.8,1401.8 866.1,1402 865.5,1402.2 864.9,1402.3 864.3,1402.3 863.7,1402.2 863.2,1402 862.7,1401.8 848.6,1394.3 848.1,1394 847.7,1393.6 847.3,1393.2 847,1392.7 846.7,1392.2 846.5,1391.5 846.3,1390.9 846.1,1390.2 846.1,1389.5"/>
<ellipse class="of" cx="867.6" cy="1392.5" rx="10.5" ry="6.3" transform="rotate(-62 867.6 1392.5)"/>
<polygon class="of" points="858.8,1396.9 858.8,1396 858.9,1395 859.1,1394 859.4,1393 859.7,1392 860.1,1391 860.5,1390 861,1389 861.5,1388.1 862.1,1387.2 862.7,1386.3 863.4,1385.5 864.1,1384.7 864.8,1384 865.6,1383.3 866.3,1382.8 867.1,1382.2 867.9,1381.8 868.6,1381.5 869.4,1381.2 870.1,1381 870.9,1381 871.6,1381 872.2,1381.1 872.9,1381.2 873.5,1381.5 888.5,1389.5 889,1389.9 889.5,1390.3 890,1390.8 890.4,1391.4 890.7,1392 891,1392.8 891.2,1393.5 891.4,1394.3 891.4,1395.2 891.5,1396.2 891.4,1397.1 891.3,1398.1 891.1,1399.1 890.8,1400.1 890.5,1401.1 890.1,1402.1 889.7,1403.1 889.2,1404.1 888.7,1405 888.1,1405.9 887.5,1406.8 886.8,1407.6 886.1,1408.4 885.4,1409.1 884.7,1409.8 883.9,1410.3 883.1,1410.8 882.4,1411.3 881.6,1411.6 880.8,1411.9 880.1,1412 879.4,1412.1 878.6,1412.1 878,1412 877.3,1411.8 876.7,1411.6 861.8,1403.6 861.2,1403.2 860.7,1402.8 860.2,1402.3 859.8,1401.7 859.5,1401 859.2,1400.3 859,1399.6 858.9,1398.7 858.8,1397.8"/>
<ellipse class="of" cx="882.6" cy="1400.5" rx="12.5" ry="7.5" transform="rotate(-62 882.6 1400.5)"/>
<polygon class="of" points="873.8,1404.9 873.8,1404 873.9,1403 874.1,1402 874.4,1401 874.7,1400 875.1,1399 875.5,1398 876,1397 876.5,1396.1 877.1,1395.2 877.7,1394.3 878.4,1393.5 879.1,1392.7 879.8,1392 880.5,1391.3 881.3,1390.8 882.1,1390.2 882.9,1389.8 883.6,1389.5 884.4,1389.2 885.1,1389 885.9,1389 886.6,1389 887.2,1389.1 887.9,1389.2 888.5,1389.5 894.6,1392.8 895.2,1393.2 895.7,1393.6 896.2,1394.1 896.6,1394.7 896.9,1395.3 897.2,1396 897.4,1396.8 897.5,1397.7 897.6,1398.5 897.6,1399.5 897.6,1400.4 897.5,1401.4 897.3,1402.4 897,1403.4 896.7,1404.4 896.3,1405.4 895.9,1406.4 895.4,1407.4 894.9,1408.3 894.3,1409.2 893.7,1410.1 893,1410.9 892.3,1411.7 891.6,1412.4 890.8,1413.1 890.1,1413.6 889.3,1414.1 888.5,1414.6 887.8,1414.9 887,1415.2 886.3,1415.3 885.5,1415.4 884.8,1415.4 884.1,1415.3 883.5,1415.1 882.9,1414.9 876.7,1411.6 876.2,1411.2 875.7,1410.8 875.2,1410.3 874.8,1409.7 874.5,1409.1 874.2,1408.3 874,1407.6 873.9,1406.7 873.8,1405.9"/>
<ellipse class="of" cx="888.8" cy="1403.8" rx="12.5" ry="7.5" transform="rotate(-62 888.8 1403.8)"/>
<ellipse class="o" cx="884.4" cy="1401.5" rx="12.8" ry="7.7" transform="rotate(-62 884.4 1401.5)"/>
<polygon class="of" points="882.1,1407.2 882.1,1406.5 882.2,1405.7 882.3,1405 882.5,1404.2 882.8,1403.4 883,1402.7 883.4,1401.9 883.8,1401.2 884.2,1400.5 884.6,1399.8 885.1,1399.1 885.6,1398.5 886.1,1397.9 886.7,1397.3 887.2,1396.8 887.8,1396.4 888.4,1396 889,1395.7 889.5,1395.4 890.1,1395.2 890.7,1395.1 891.2,1395 891.8,1395 892.3,1395.1 892.8,1395.2 893.2,1395.5 934.3,1417.4 934.7,1417.6 935.1,1418 935.4,1418.3 935.7,1418.8 936,1419.3 936.2,1419.8 936.3,1420.4 936.5,1421 936.5,1421.7 936.5,1422.4 936.5,1423.1 936.4,1423.9 936.2,1424.6 936.1,1425.4 935.8,1426.2 935.5,1426.9 935.2,1427.7 934.8,1428.4 934.4,1429.1 934,1429.8 933.5,1430.5 933,1431.1 932.5,1431.7 931.9,1432.3 931.4,1432.8 930.8,1433.2 930.2,1433.6 929.6,1433.9 929,1434.2 928.5,1434.3 927.9,1434.5 927.3,1434.5 926.8,1434.5 926.3,1434.5 925.8,1434.3 925.3,1434.1 884.3,1412.2 883.9,1412 883.5,1411.6 883.2,1411.2 882.9,1410.8 882.6,1410.3 882.4,1409.8 882.2,1409.2 882.1,1408.5 882.1,1407.9"/>
<ellipse class="of" cx="929.8" cy="1425.7" rx="9.5" ry="5.7" transform="rotate(-62 929.8 1425.7)"/>
<ellipse class="o" cx="929.8" cy="1425.7" rx="5.9" ry="3.5" transform="rotate(-62 929.8 1425.7)"/>
<ellipse class="t" cx="929.8" cy="1425.7" rx="4.8" ry="2.9" transform="rotate(-62 929.8 1425.7)"/>
<polyline class="t" points="901.4,1401 929.6,1416.1"/>
<line class="ld" x1="929.8" y1="1425.7" x2="1028" y2="1477"/>
<polygon class="of" points="953.9,1458.9 954,1456.7 954.2,1454.4 954.6,1452.1 955.2,1449.7 955.9,1447.4 956.7,1445 957.7,1442.7 958.8,1440.4 960,1438.2 961.3,1436.1 962.7,1434 964.2,1432.1 965.8,1430.3 967.5,1428.6 969.2,1427.1 971,1425.7 972.8,1424.5 974.5,1423.5 976.3,1422.7 978.1,1422.1 979.9,1421.7 981.6,1421.5 983.2,1421.5 984.8,1421.7 986.3,1422.1 987.8,1422.7 998.3,1427.7 999.6,1428.5 1000.8,1429.5 1001.9,1430.7 1002.8,1432 1003.7,1433.5 1004.4,1435.2 1004.9,1437 1005.3,1438.9 1005.5,1441 1005.6,1443.1 1005.5,1445.3 1005.2,1447.6 1004.9,1449.9 1004.3,1452.3 1003.6,1454.6 1002.8,1457 1001.8,1459.3 1000.7,1461.6 999.5,1463.8 998.2,1465.9 996.8,1468 995.2,1469.9 993.7,1471.7 992,1473.4 990.3,1474.9 988.5,1476.3 986.8,1477.5 985,1478.5 983.2,1479.3 981.4,1479.9 979.6,1480.3 977.9,1480.5 976.3,1480.5 974.7,1480.3 973.2,1479.9 971.7,1479.3 961.2,1474.3 959.9,1473.5 958.7,1472.5 957.6,1471.3 956.7,1470 955.8,1468.5 955.1,1466.8 954.6,1465 954.2,1463.1 954,1461"/>
<ellipse class="of" cx="985" cy="1453.5" rx="29" ry="17.7" transform="rotate(-62.8 985 1453.5)"/>
<ellipse class="t" cx="985" cy="1453.5" rx="25.4" ry="15.5" transform="rotate(-62.8 985 1453.5)"/>
<ellipse class="o" cx="985" cy="1453.5" rx="18" ry="11" transform="rotate(-62.8 985 1453.5)"/>
<ellipse class="t" cx="984" cy="1454" rx="14.5" ry="8.8" transform="rotate(-62.8 984 1454)"/>
<ellipse class="o" cx="983.8" cy="1454.5" rx="12.8" ry="7.8" transform="rotate(-62.8 983.8 1454.5)"/>
<line class="ld" x1="985" y1="1453.5" x2="1027" y2="1477"/>
<polygon class="of" points="1024.4,1480 1045,1491.2 1049,1483.8 1028.4,1472.6"/>
<polyline class="t" points="1026,1480.9 1025.6,1480.5 1025.4,1479.9 1025.4,1479.2 1025.6,1478.3 1025.9,1477.3 1026.3,1476.3 1026.9,1475.4 1027.6,1474.6 1028.3,1474 1028.9,1473.6 1029.5,1473.4 1030,1473.5"/>
<polyline class="t" points="1028.4,1482.2 1028.1,1481.9 1027.9,1481.3 1027.8,1480.5 1028,1479.6 1028.3,1478.6 1028.8,1477.6 1029.3,1476.7 1030,1475.9 1030.7,1475.3 1031.3,1474.9 1031.9,1474.7 1032.4,1474.8"/>
<polyline class="t" points="1030.8,1483.5 1030.5,1483.2 1030.3,1482.6 1030.3,1481.8 1030.4,1480.9 1030.7,1479.9 1031.2,1479 1031.8,1478 1032.4,1477.2 1033.1,1476.6 1033.8,1476.2 1034.4,1476.1 1034.9,1476.2"/>
<polyline class="t" points="1033.3,1484.9 1032.9,1484.5 1032.7,1483.9 1032.7,1483.1 1032.8,1482.2 1033.2,1481.3 1033.6,1480.3 1034.2,1479.4 1034.9,1478.6 1035.5,1477.9 1036.2,1477.5 1036.8,1477.4 1037.3,1477.5"/>
<polyline class="t" points="1035.7,1486.2 1035.3,1485.8 1035.1,1485.3 1035.1,1484.5 1035.3,1483.6 1035.6,1482.6 1036.1,1481.6 1036.6,1480.7 1037.3,1479.9 1038,1479.3 1038.6,1478.9 1039.2,1478.7 1039.7,1478.8"/>
<polyline class="t" points="1038.1,1487.5 1037.8,1487.2 1037.6,1486.6 1037.5,1485.8 1037.7,1484.9 1038,1483.9 1038.5,1482.9 1039.1,1482 1039.7,1481.2 1040.4,1480.6 1041.1,1480.2 1041.7,1480 1042.2,1480.2"/>
<polyline class="t" points="1040.6,1488.9 1040.2,1488.5 1040,1487.9 1040,1487.1 1040.1,1486.2 1040.4,1485.2 1040.9,1484.3 1041.5,1483.3 1042.1,1482.5 1042.8,1481.9 1043.5,1481.5 1044.1,1481.4 1044.6,1481.5"/>
<polyline class="t" points="1043,1490.2 1042.6,1489.8 1042.4,1489.2 1042.4,1488.5 1042.6,1487.6 1042.9,1486.6 1043.3,1485.6 1043.9,1484.7 1044.6,1483.9 1045.3,1483.3 1045.9,1482.9 1046.5,1482.7 1047,1482.8"/>
<polygon class="of" points="1039.8,1497.7 1039.8,1496.3 1040,1494.8 1040.3,1493.3 1040.7,1491.8 1041.2,1490.3 1041.7,1488.8 1042.4,1487.4 1043.2,1486 1044,1484.6 1045,1483.3 1045.9,1482 1047,1480.8 1048.1,1479.8 1049.2,1478.8 1050.4,1477.9 1051.7,1477.1 1052.9,1476.5 1054.1,1475.9 1055.4,1475.5 1056.6,1475.2 1057.8,1475 1059,1475 1060.1,1475.1 1061.2,1475.3 1062.3,1475.7 1063.2,1476.2 1064.2,1476.8 1066.2,1478.2 1067,1478.9 1067.7,1479.7 1068.4,1480.7 1069,1481.7 1069.4,1482.8 1069.8,1484.1 1070,1485.3 1070.2,1486.7 1070.2,1488.1 1070.2,1489.5 1070,1491 1069.7,1492.5 1069.3,1494 1068.8,1495.5 1068.3,1497 1067.6,1498.4 1066.8,1499.8 1066,1501.2 1065,1502.5 1064.1,1503.8 1063,1505 1061.9,1506 1060.8,1507 1059.6,1507.9 1058.3,1508.7 1057.1,1509.3 1055.9,1509.9 1054.6,1510.3 1053.4,1510.6 1052.2,1510.8 1051,1510.8 1049.9,1510.7 1048.8,1510.5 1047.7,1510.1 1046.8,1509.6 1045.8,1509 1043.8,1507.6 1043,1506.9 1042.3,1506.1 1041.6,1505.1 1041,1504.1 1040.6,1503 1040.2,1501.7 1040,1500.5 1039.8,1499.1"/>
<ellipse class="of" cx="1056" cy="1493.6" rx="18.5" ry="12.5" transform="rotate(-60 1056 1493.6)"/>
<polygon class="of" points="1051.9,1490 1059.5,1484.5 1063,1486.5 1070.6,1492 1070.6,1503 1063,1508.5 1059.5,1506.5 1051.9,1501"/>
<polygon class="of" points="1070.6,1503 1063,1508.5 1055.4,1503 1055.4,1492 1063,1486.5 1070.6,1492"/>
<ellipse class="t" cx="1063.5" cy="1498" rx="6.5" ry="5" transform="rotate(-60 1063.5 1498)"/>
<polygon class="of" points="932,1061.6 947.9,1068.9 950.9,1062.1 935,1054.8"/>
<polyline class="t" points="932,1061.6 931.6,1061.3 931.4,1060.8 931.3,1060.1 931.4,1059.3 931.6,1058.4 932,1057.5 932.4,1056.7 933,1055.9 933.5,1055.3 934.1,1054.9 934.6,1054.8 935,1054.8"/>
<polyline class="t" points="934.7,1062.8 934.4,1062.5 934.2,1062 934.1,1061.4 934.2,1060.6 934.4,1059.7 934.8,1058.8 935.2,1057.9 935.7,1057.2 936.3,1056.6 936.9,1056.2 937.4,1056.1 937.8,1056.1"/>
<polyline class="t" points="937.5,1064.1 937.2,1063.8 937,1063.3 936.9,1062.6 937,1061.8 937.2,1061 937.6,1060.1 938,1059.2 938.5,1058.5 939.1,1057.9 939.6,1057.5 940.2,1057.3 940.6,1057.4"/>
<polyline class="t" points="940.3,1065.4 940,1065.1 939.8,1064.6 939.7,1063.9 939.8,1063.1 940,1062.2 940.3,1061.3 940.8,1060.5 941.3,1059.8 941.9,1059.2 942.4,1058.8 942.9,1058.6 943.4,1058.7"/>
<polyline class="t" points="943.1,1066.7 942.8,1066.4 942.5,1065.9 942.5,1065.2 942.6,1064.4 942.8,1063.5 943.1,1062.6 943.6,1061.8 944.1,1061 944.7,1060.4 945.2,1060.1 945.7,1059.9 946.2,1060"/>
<polygon class="of" points="940.4,1065.9 940.4,1065.2 940.5,1064.5 940.7,1063.8 940.9,1063.2 941.1,1062.5 941.4,1061.8 941.7,1061.2 942.1,1060.6 942.5,1060 943,1059.5 943.5,1059 944,1058.5 944.5,1058.1 945.1,1057.7 945.7,1057.4 946.3,1057.2 946.9,1057 947.5,1056.8 948.1,1056.7 948.7,1056.7 949.3,1056.7 949.9,1056.8 950.5,1056.9 951,1057.1 951.5,1057.4 954,1058.9 954.5,1059.2 954.9,1059.6 955.3,1060 955.7,1060.5 956,1061 956.3,1061.5 956.5,1062.1 956.7,1062.7 956.8,1063.3 956.9,1064 956.9,1064.6 956.9,1065.3 956.8,1066 956.6,1066.7 956.5,1067.3 956.2,1068 955.9,1068.7 955.6,1069.3 955.2,1069.9 954.8,1070.5 954.3,1071 953.8,1071.5 953.3,1072 952.8,1072.4 952.2,1072.8 951.6,1073.1 951,1073.3 950.4,1073.5 949.8,1073.7 949.2,1073.8 948.6,1073.8 948,1073.8 947.4,1073.7 946.9,1073.6 946.3,1073.4 945.8,1073.1 943.3,1071.6 942.8,1071.3 942.4,1070.9 942,1070.5 941.6,1070 941.3,1069.5 941,1069 940.8,1068.4 940.6,1067.8 940.5,1067.2 940.4,1066.5"/>
<ellipse class="of" cx="949.9" cy="1066" rx="8.2" ry="6.6" transform="rotate(-60 949.9 1066)"/>
<ellipse class="t" cx="949.9" cy="1066" rx="4.9" ry="3.9" transform="rotate(-60 949.9 1066)"/>
<line class="t" x1="947" y1="1063.5" x2="952.8" y2="1068.5"/>
<line class="t" x1="946.2" y1="1068" x2="953.6" y2="1064"/>
<polygon class="of" points="874.7,1221.3 889.6,1230.8 893.2,1225.2 878.3,1215.7"/>
<polyline class="t" points="874.7,1221.3 874.4,1221 874.3,1220.6 874.3,1219.9 874.5,1219.2 874.8,1218.4 875.2,1217.7 875.7,1217 876.3,1216.4 876.9,1215.9 877.4,1215.6 877.9,1215.5 878.3,1215.7"/>
<polyline class="t" points="877.3,1223 877,1222.7 876.9,1222.2 876.9,1221.6 877.1,1220.9 877.4,1220.1 877.8,1219.3 878.3,1218.6 878.9,1218 879.5,1217.6 880,1217.3 880.5,1217.2 880.9,1217.3"/>
<polyline class="t" points="879.9,1224.7 879.6,1224.4 879.5,1223.9 879.5,1223.3 879.7,1222.5 880,1221.8 880.4,1221 880.9,1220.3 881.5,1219.7 882.1,1219.2 882.6,1219 883.1,1218.9 883.5,1219"/>
<polyline class="t" points="882.5,1226.3 882.2,1226 882.1,1225.5 882.1,1224.9 882.3,1224.2 882.6,1223.4 883,1222.7 883.6,1222 884.1,1221.4 884.7,1220.9 885.3,1220.6 885.7,1220.5 886.1,1220.6"/>
<polyline class="t" points="885.1,1228 884.8,1227.7 884.7,1227.2 884.7,1226.6 884.9,1225.9 885.2,1225.1 885.6,1224.3 886.2,1223.6 886.7,1223 887.3,1222.6 887.9,1222.3 888.4,1222.2 888.7,1222.3"/>
<polygon class="of" points="883,1228.3 883,1227.7 883.1,1227 883.2,1226.4 883.4,1225.8 883.6,1225.2 883.9,1224.6 884.2,1224 884.5,1223.5 884.9,1222.9 885.4,1222.4 885.8,1222 886.3,1221.5 886.8,1221.2 887.3,1220.8 887.8,1220.5 888.4,1220.3 888.9,1220.1 889.5,1220 890,1219.9 890.6,1219.8 891.1,1219.9 891.7,1220 892.2,1220.1 892.7,1220.3 893.1,1220.5 895.6,1222 896.1,1222.3 896.5,1222.6 896.9,1223 897.2,1223.4 897.5,1223.9 897.8,1224.4 898,1224.9 898.1,1225.5 898.2,1226 898.3,1226.6 898.3,1227.2 898.3,1227.8 898.2,1228.5 898.1,1229.1 897.9,1229.7 897.7,1230.3 897.4,1230.9 897.1,1231.5 896.8,1232 896.4,1232.6 896,1233.1 895.5,1233.5 895,1234 894.5,1234.3 894,1234.7 893.5,1235 892.9,1235.2 892.4,1235.4 891.8,1235.5 891.2,1235.6 890.7,1235.7 890.1,1235.6 889.6,1235.5 889.1,1235.4 888.6,1235.2 888.1,1235 885.6,1233.5 885.2,1233.2 884.8,1232.9 884.4,1232.5 884.1,1232.1 883.8,1231.6 883.5,1231.1 883.4,1230.6 883.2,1230 883.1,1229.5 883,1228.9"/>
<ellipse class="of" cx="891.9" cy="1228.5" rx="7.5" ry="6" transform="rotate(-60 891.9 1228.5)"/>
<ellipse class="t" cx="891.9" cy="1228.5" rx="4.5" ry="3.6" transform="rotate(-60 891.9 1228.5)"/>
<line class="t" x1="889.3" y1="1226.2" x2="894.5" y2="1230.8"/>
<line class="t" x1="888.5" y1="1230.4" x2="895.3" y2="1226.6"/>
<polyline class="ld" points="924.5,1050 924.5,1086.6 889,1064.5"/>
<line class="ld" x1="924.5" y1="1050" x2="933.5" y2="1056"/>
<polyline class="ld" points="855,1178 862.5,1184 862.5,1209.4 877.4,1217.8"/>
<line class="ld" x1="331" y1="815" x2="452" y2="881"/>
<polygon class="of" points="435.5,937 435.7,931.4 436.2,925.6 437.2,919.6 438.5,913.5 440.3,907.3 442.4,901.1 444.8,894.9 447.6,888.7 450.7,882.7 454.1,876.9 457.7,871.2 461.6,865.8 465.7,860.6 470,855.8 474.4,851.4 478.9,847.3 483.5,843.7 488.1,840.6 492.8,837.9 497.4,835.7 502,834 506.4,832.9 510.7,832.3 514.9,832.2 518.8,832.7 522.5,833.7 542.2,841.3 545.8,842.9 549,845 551.9,847.6 554.5,850.7 556.8,854.3 558.6,858.4 560.1,862.8 561.2,867.6 561.9,872.8 562.1,878.3 562,884 561.4,889.9 560.5,896 559.1,902.3 557.3,908.6 555.2,915 552.7,921.3 549.9,927.6 546.7,933.7 543.2,939.7 539.5,945.5 535.5,951 531.4,956.2 527,961.1 522.5,965.7 517.9,969.8 513.2,973.5 508.5,976.7 503.7,979.5 499,981.7 494.4,983.4 489.8,984.6 485.4,985.2 481.2,985.2 477.2,984.8 473.4,983.7 469.8,982.1 451.6,971.7 448.4,969.7 445.6,967.1 443,964 440.8,960.5 439,956.6 437.5,952.2 436.5,947.5 435.8,942.4"/>
<ellipse class="of" cx="507.8" cy="912.5" rx="79.3" ry="44.3" transform="rotate(-61.4 507.8 912.5)"/>
<polyline class="t" points="452.4,972 450.4,970.3 448.5,968.3 446.9,966.2 445.3,963.8 444,961.2 442.8,958.5 441.8,955.5 440.9,952.4 440.3,949.1 439.8,945.6 439.5,942 439.4,938.3 439.5,934.5 439.8,930.5 440.3,926.5 441,922.4 441.8,918.2 442.8,914 444,909.8 445.4,905.6 447,901.3 448.7,897.1 450.5,892.9 452.5,888.7 454.7,884.6 457,880.6 459.4,876.6 461.9,872.8 464.5,869.1 467.3,865.5 470.1,862 473,858.7 476,855.6 479,852.6 482.1,849.8 485.3,847.2 488.4,844.9 491.6,842.7 494.8,840.8 497.9,839 501.1,837.6 504.2,836.3 507.3,835.3 510.3,834.6 513.3,834.1 516.2,833.8 519,833.8 521.7,834.1 524.4,834.6 526.9,835.3"/>
<polyline class="o" points="455.7,972.2 453.7,970.5 451.9,968.6 450.2,966.5 448.7,964.2 447.4,961.7 446.2,958.9 445.2,956 444.4,952.9 443.7,949.7 443.3,946.3 443,942.7 442.9,939.1 443,935.3 443.3,931.4 443.8,927.5 444.4,923.4 445.3,919.3 446.3,915.2 447.4,911 448.8,906.8 450.3,902.6 452,898.5 453.8,894.3 455.8,890.2 457.9,886.2 460.2,882.2 462.5,878.3 465,874.5 467.6,870.9 470.3,867.3 473.1,863.9 476,860.7 478.9,857.6 481.9,854.7 485,851.9 488,849.4 491.1,847 494.3,844.9 497.4,843 500.5,841.3 503.6,839.9 506.7,838.6 509.7,837.6 512.7,836.9 515.6,836.4 518.5,836.2 521.3,836.2 524,836.4 526.6,836.9 529,837.7"/>
<polyline class="t" points="457.7,974.5 455.7,972.8 453.9,970.9 452.2,968.7 450.6,966.3 449.3,963.8 448.1,961 447.1,958 446.2,954.9 445.6,951.6 445.1,948.2 444.9,944.6 444.8,940.8 444.9,937 445.2,933.1 445.6,929 446.3,924.9 447.1,920.8 448.2,916.6 449.4,912.3 450.7,908.1 452.3,903.8 454,899.6 455.8,895.4 457.8,891.2 460,887.1 462.3,883.1 464.7,879.1 467.2,875.3 469.9,871.6 472.6,868 475.4,864.5 478.3,861.2 481.3,858.1 484.4,855.1 487.4,852.3 490.6,849.8 493.7,847.4 496.9,845.2 500.1,843.3 503.2,841.6 506.4,840.1 509.5,838.8 512.6,837.8 515.6,837.1 518.6,836.6 521.5,836.3 524.3,836.3 527.1,836.6 529.7,837.1 532.2,837.9"/>
<polyline class="o" points="460.6,974.6 458.6,972.9 456.8,971 455.2,968.9 453.6,966.5 452.3,964 451.1,961.3 450.1,958.4 449.3,955.3 448.7,952 448.2,948.6 447.9,945.1 447.9,941.4 448,937.6 448.2,933.8 448.7,929.8 449.4,925.8 450.2,921.7 451.2,917.5 452.4,913.3 453.7,909.2 455.3,905 456.9,900.8 458.8,896.7 460.7,892.6 462.9,888.5 465.1,884.5 467.5,880.7 470,876.9 472.6,873.2 475.3,869.7 478.1,866.3 480.9,863 483.9,859.9 486.8,857 489.9,854.3 493,851.7 496.1,849.4 499.2,847.2 502.3,845.3 505.5,843.7 508.6,842.2 511.6,841 514.7,840 517.7,839.2 520.6,838.8 523.4,838.5 526.2,838.5 528.9,838.8 531.5,839.3 534,840"/>
<polyline class="t" points="462.8,977.4 460.8,975.6 459,973.7 457.3,971.5 455.7,969.2 454.4,966.6 453.2,963.8 452.1,960.8 451.3,957.7 450.6,954.3 450.2,950.9 449.9,947.3 449.8,943.5 449.9,939.7 450.2,935.7 450.7,931.7 451.3,927.5 452.2,923.4 453.2,919.1 454.4,914.9 455.8,910.6 457.4,906.3 459.1,902.1 460.9,897.8 463,893.7 465.1,889.5 467.4,885.5 469.8,881.5 472.4,877.7 475,873.9 477.8,870.3 480.6,866.8 483.6,863.5 486.6,860.3 489.6,857.4 492.7,854.6 495.9,852 499,849.6 502.2,847.4 505.4,845.5 508.6,843.7 511.8,842.3 514.9,841 518,840 521.1,839.3 524,838.7 527,838.5 529.8,838.5 532.5,838.8 535.2,839.3 537.7,840"/>
<ellipse class="t" cx="507.8" cy="912.5" rx="76.5" ry="42.7" transform="rotate(-61.4 507.8 912.5)"/>
<ellipse class="o" cx="506.3" cy="911.7" rx="71.4" ry="39.9" transform="rotate(-61.4 506.3 911.7)"/>
<ellipse class="t" cx="505.6" cy="911.4" rx="69.4" ry="38.8" transform="rotate(-61.4 505.6 911.4)"/>
<path class="o" d="M490.6,894 C488.6,894.6 485.9,892.2 483.6,891.3 C481.4,890.4 476.6,890 477,888.3 C478,884 483.4,877.7 487.6,873.3 C491.2,869.6 498.1,863.7 500.3,864 C501.9,864.3 499.5,871.5 499,875.3 C498.5,879.2 498.9,883.5 497.3,886.9 C496.1,889.8 493.2,893.1 490.6,894Z" />
<path class="t" d="M490.5,891.1 C489.1,891.5 487,889.7 485.3,888.9 C483.6,888.1 480.1,887.8 480.4,886.5 C481.1,883.4 485.4,879 488.5,875.8 C491.3,872.9 496.2,868.1 497.9,868.3 C499,868.4 497.3,873.9 496.9,876.8 C496.6,879.7 496.9,883 495.8,885.6 C494.8,887.8 492.5,890.4 490.5,891.1Z" />
<path class="o" d="M514.7,882.3 C514.5,878.6 516.9,874.2 518.1,870.2 C519.3,866.2 519.2,859.9 521.7,858.3 C523.8,857 529.4,859.3 531.8,861.5 C534.4,864 537.5,869.2 536.8,872.3 C536.2,875.2 531,877.1 528.1,879.4 C525.1,881.7 522,885.7 519.1,886.3 C517.5,886.7 514.8,884 514.7,882.3Z" />
<path class="t" d="M517,879.9 C516.9,877.1 518.8,873.7 519.7,870.7 C520.6,867.7 520.7,862.8 522.5,861.7 C524,860.8 527.8,863.1 529.6,864.8 C531.6,866.6 534.3,870 533.9,872.2 C533.5,874.3 529.5,875.8 527.3,877.6 C525,879.5 522.7,882.6 520.4,883.1 C519.2,883.3 517.1,881.3 517,879.9Z" />
<path class="o" d="M519.6,907.5 C521.8,905.1 525.6,904.3 528.7,902.7 C531.6,901.2 537,896.8 537.5,898.4 C538.4,901.1 535.4,910 533.1,915.3 C530.7,921 526.7,929.2 523.5,931.3 C522.2,932.2 520.8,926.7 519.5,924.4 C518.1,922 515.6,919.6 515.6,917.1 C515.6,913.9 517.4,909.9 519.6,907.5Z" />
<path class="t" d="M521.1,909 C522.7,907.2 525.7,906.6 528,905.4 C530.2,904.3 534.3,901.1 534.7,902.3 C535.3,904.3 532.6,910.9 530.9,914.9 C529.1,919.1 526.5,925.3 524.2,926.9 C523.2,927.7 522,923.6 521,921.9 C520,920 517.9,918.3 517.9,916.4 C518,914 519.4,910.8 521.1,909Z" />
<path class="o" d="M498.5,934.8 C500.3,936.2 500,940.9 500.7,944 C501.4,947 504,951 502.6,953.1 C500.4,956.5 494.3,959.2 489.8,960.4 C486.4,961.3 479.5,961.3 478.8,959.5 C478,957.3 482.9,951.9 485.1,948.1 C487.2,944.3 488.7,939.5 491.6,936.7 C493.2,935.1 497.2,933.8 498.5,934.8Z" />
<path class="t" d="M497.1,938.1 C498.4,939.1 498.2,942.8 498.7,945.1 C499.2,947.5 501.1,950.6 500,952.2 C498.4,954.5 493.9,956 490.6,956.9 C487.9,957.6 482.7,958.2 482.2,956.9 C481.5,955.4 485.2,951.2 486.8,948.3 C488.4,945.3 489.6,941.7 491.8,939.5 C493,938.3 496.1,937.2 497.1,938.1Z" />
<path class="o" d="M480.6,926.4 C479.1,930.2 475.5,933.4 472.9,936.9 C470.3,940.3 467,947.3 465.2,946.9 C463.3,946.5 461.8,938.7 461.7,934.5 C461.5,929 462.1,921.7 464.5,917.9 C465.6,916.1 469.7,917.8 472.4,917.8 C475,917.8 479,916.6 480.4,918 C481.8,919.5 481.6,924 480.6,926.4Z" />
<path class="t" d="M478.2,927 C477.1,929.9 474.3,932.3 472.3,934.9 C470.4,937.4 467.7,942.8 466.4,942.4 C465.1,942 464.5,936 464.4,932.7 C464.3,928.7 464.2,923.4 465.9,920.7 C466.7,919.3 469.9,920.5 471.9,920.4 C474,920.4 477.1,919.4 478.1,920.5 C479.2,921.6 479,925.1 478.2,927Z" />
<ellipse class="t" cx="500.5" cy="909.5" rx="26.6" ry="16.1" transform="rotate(-64 500.5 909.5)"/>
<ellipse class="o" cx="501.3" cy="909.9" rx="22.9" ry="13.8" transform="rotate(-64 501.3 909.9)"/>
<ellipse class="o" cx="501.3" cy="909.9" rx="16.5" ry="10" transform="rotate(-64 501.3 909.9)"/>
<polygon class="o" points="493.5,904 505.5,898.5 509.5,901 510,917.5 498,922.5 494,920"/>
<line class="t" x1="494.5" y1="907" x2="509.5" y2="900.5"/>
<line class="t" x1="494" y1="913.5" x2="509" y2="907.5"/>
<polygon class="of" points="283.2,799.1 283.3,797.8 283.4,796.5 283.7,795.2 284.1,793.8 284.5,792.5 285,791.2 285.6,790 286.3,788.8 287.1,787.6 287.9,786.5 288.8,785.4 289.7,784.4 290.7,783.5 291.7,782.7 292.8,782 293.8,781.4 294.9,780.9 296,780.5 297.1,780.2 298.2,780.1 299.2,780 300.3,780.1 301.2,780.2 302.2,780.5 303.1,780.9 304,781.4 305.5,782.4 306.2,783 307,783.8 307.6,784.6 308.2,785.5 308.6,786.5 309.1,787.5 309.4,788.6 309.6,789.8 309.7,791 309.7,792.3 309.6,793.6 309.4,794.9 309.2,796.2 308.8,797.6 308.4,798.9 307.9,800.2 307.3,801.4 306.6,802.6 305.8,803.8 305,804.9 304.1,806 303.2,807 302.2,807.9 301.2,808.7 300.1,809.4 299.1,810 298,810.5 296.9,810.9 295.8,811.2 294.7,811.3 293.7,811.4 292.6,811.3 291.6,811.2 290.7,810.9 289.8,810.5 288.9,810 287.4,809 286.6,808.4 285.9,807.6 285.3,806.8 284.7,805.9 284.2,805 283.9,803.9 283.6,802.8 283.3,801.6 283.2,800.4"/>
<ellipse class="of" cx="297.2" cy="796.2" rx="16.1" ry="11.3" transform="rotate(-62.6 297.2 796.2)"/>
<ellipse class="o" cx="297.2" cy="796.2" rx="11.6" ry="8.2" transform="rotate(-62.6 297.2 796.2)"/>
<line class="ld" x1="283" y1="785" x2="315" y2="804.8"/>
<polygon class="of" points="576.5,963.6 576.6,962.3 576.8,960.9 577,959.5 577.4,958.1 577.8,956.7 578.4,955.3 579,954 579.6,952.6 580.4,951.4 581.2,950.1 582.1,949 583.1,947.9 584.1,947 585.1,946.1 586.1,945.3 587.2,944.6 588.3,944 589.4,943.5 590.5,943.2 591.6,942.9 592.7,942.8 593.7,942.8 594.7,943 595.7,943.2 596.6,943.6 597.4,944.1 598.9,945.1 599.7,945.7 600.5,946.4 601.1,947.2 601.7,948.1 602.1,949.1 602.5,950.2 602.9,951.4 603.1,952.6 603.2,953.9 603.2,955.2 603.1,956.5 603,957.9 602.7,959.3 602.3,960.7 601.9,962.1 601.4,963.5 600.7,964.9 600,966.2 599.3,967.4 598.5,968.6 597.6,969.8 596.6,970.9 595.6,971.9 594.6,972.7 593.6,973.5 592.5,974.2 591.4,974.8 590.3,975.3 589.2,975.6 588.1,975.9 587,976 586,976 585,975.9 584,975.6 583.1,975.2 582.3,974.7 580.8,973.7 580,973.1 579.2,972.4 578.6,971.6 578,970.7 577.5,969.7 577.2,968.6 576.9,967.5 576.6,966.2 576.5,965"/>
<ellipse class="of" cx="590.6" cy="959.9" rx="17" ry="11.3" transform="rotate(-64 590.6 959.9)"/>
<ellipse class="o" cx="590.6" cy="959.9" rx="12.3" ry="8.1" transform="rotate(-64 590.6 959.9)"/>
<line class="ld" x1="508" y1="913" x2="590.6" y2="959.9"/>
<line class="ld" x1="602.5" y1="966.3" x2="668.2" y2="1000.1"/>
<polygon class="of" points="244.7,773.5 248.6,762.6 256.4,762.6 261.4,764.6 265.3,775.5 261.4,786.4 253.6,786.4 248.6,784.4"/>
<line class="t" x1="256.4" y1="784.4" x2="261.4" y2="786.4"/>
<line class="t" x1="256.4" y1="762.6" x2="261.4" y2="764.6"/>
<ellipse class="of" cx="260" cy="774.5" rx="12.4" ry="8.3" transform="rotate(-66 260 774.5)"/>
<ellipse class="t" cx="261" cy="775" rx="8.5" ry="6" transform="rotate(-66 261 775)"/>
<polygon class="of" points="256.5,778 280,790 285,780 261.5,768"/>
<polyline class="t" points="260.4,780 259.9,779.5 259.7,778.7 259.6,777.7 259.8,776.5 260.2,775.2 260.8,773.8 261.5,772.6 262.3,771.5 263.2,770.7 264.1,770.1 264.9,769.9 265.6,770"/>
<polyline class="t" points="262.5,781 262,780.6 261.7,779.8 261.7,778.8 261.8,777.5 262.2,776.2 262.8,774.9 263.6,773.7 264.4,772.6 265.3,771.7 266.2,771.2 266.9,770.9 267.6,771.1"/>
<polyline class="t" points="264.6,782.1 264.1,781.6 263.8,780.8 263.7,779.8 263.9,778.6 264.3,777.3 264.9,776 265.6,774.7 266.4,773.6 267.3,772.8 268.2,772.2 269,772 269.7,772.1"/>
<polyline class="t" points="266.6,783.1 266.1,782.7 265.8,781.9 265.8,780.9 265.9,779.7 266.3,778.3 266.9,777 267.7,775.8 268.5,774.7 269.4,773.8 270.3,773.3 271.1,773.1 271.7,773.2"/>
<polyline class="t" points="268.7,784.2 268.2,783.7 267.9,783 267.8,781.9 268,780.7 268.4,779.4 269,778.1 269.7,776.8 270.6,775.7 271.4,774.9 272.3,774.3 273.1,774.1 273.8,774.2"/>
<polyline class="t" points="270.7,785.3 270.2,784.8 269.9,784 269.9,783 270.1,781.8 270.5,780.5 271,779.1 271.8,777.9 272.6,776.8 273.5,775.9 274.4,775.4 275.2,775.2 275.8,775.3"/>
<polyline class="t" points="272.8,786.3 272.3,785.8 272,785.1 271.9,784 272.1,782.8 272.5,781.5 273.1,780.2 273.8,778.9 274.7,777.8 275.6,777 276.4,776.4 277.2,776.2 277.9,776.4"/>
<polyline class="t" points="274.8,787.4 274.3,786.9 274.1,786.1 274,785.1 274.2,783.9 274.6,782.6 275.1,781.2 275.9,780 276.7,778.9 277.6,778.1 278.5,777.5 279.3,777.3 279.9,777.4"/>
<polyline class="t" points="276.9,788.4 276.4,788 276.1,787.2 276.1,786.2 276.2,784.9 276.6,783.6 277.2,782.3 277.9,781 278.8,780 279.7,779.1 280.5,778.6 281.3,778.3 282,778.5"/>
<polyline class="t" points="278.9,789.5 278.4,789 278.2,788.2 278.1,787.2 278.3,786 278.7,784.7 279.3,783.3 280,782.1 280.8,781 281.7,780.2 282.6,779.6 283.4,779.4 284.1,779.5"/>
<ellipse class="of" cx="282.5" cy="785" rx="5.6" ry="3.4" transform="rotate(-62 282.5 785)"/>
<polygon class="of" points="343.6,186 347.8,173.9 356.2,173.9 362.2,176.9 366.4,189 362.2,201.1 353.8,201.1 347.8,198.1"/>
<line class="t" x1="356.2" y1="198.1" x2="362.2" y2="201.1"/>
<line class="t" x1="356.2" y1="173.9" x2="362.2" y2="176.9"/>
<ellipse class="of" cx="362" cy="189.5" rx="15.4" ry="10.2" transform="rotate(-68 362 189.5)"/>
<ellipse class="t" cx="362.5" cy="190" rx="11.5" ry="7.5" transform="rotate(-68 362.5 190)"/>
<polygon class="of" points="360.5,198.4 407.5,224 414.5,211.2 367.5,185.6"/>
<polyline class="t" points="378,207.9 377.4,207.3 377,206.3 377,204.9 377.3,203.3 377.8,201.6 378.6,199.9 379.6,198.3 380.7,196.9 381.9,195.9 383.1,195.2 384.1,194.9 385,195.1"/>
<polyline class="t" points="381.2,209.6 380.6,209 380.2,208 380.2,206.6 380.4,205.1 381,203.4 381.8,201.7 382.8,200 383.9,198.7 385.1,197.6 386.2,196.9 387.3,196.6 388.2,196.8"/>
<polyline class="t" points="384.3,211.4 383.7,210.7 383.4,209.7 383.3,208.4 383.6,206.8 384.1,205.1 384.9,203.4 385.9,201.8 387.1,200.4 388.3,199.3 389.4,198.6 390.5,198.3 391.3,198.5"/>
<polyline class="t" points="387.5,213.1 386.9,212.5 386.5,211.4 386.5,210.1 386.8,208.5 387.3,206.8 388.1,205.1 389.1,203.5 390.2,202.1 391.4,201 392.6,200.3 393.6,200.1 394.5,200.3"/>
<polyline class="t" points="390.7,214.8 390.1,214.2 389.7,213.2 389.7,211.8 389.9,210.2 390.5,208.5 391.3,206.8 392.3,205.2 393.4,203.8 394.6,202.7 395.7,202.1 396.8,201.8 397.7,202"/>
<polyline class="t" points="393.8,216.5 393.2,215.9 392.9,214.9 392.8,213.5 393.1,212 393.6,210.3 394.4,208.5 395.4,206.9 396.6,205.5 397.8,204.5 398.9,203.8 400,203.5 400.8,203.7"/>
<polyline class="t" points="397,218.2 396.4,217.6 396,216.6 396,215.3 396.3,213.7 396.8,212 397.6,210.3 398.6,208.7 399.7,207.3 400.9,206.2 402.1,205.5 403.1,205.2 404,205.4"/>
<polyline class="t" points="400.2,220 399.6,219.3 399.2,218.3 399.2,217 399.4,215.4 400,213.7 400.8,212 401.8,210.4 402.9,209 404.1,207.9 405.2,207.2 406.3,207 407.2,207.1"/>
<polyline class="t" points="403.3,221.7 402.7,221.1 402.4,220 402.3,218.7 402.6,217.1 403.1,215.4 403.9,213.7 404.9,212.1 406.1,210.7 407.3,209.6 408.4,208.9 409.5,208.7 410.3,208.9"/>
<polyline class="t" points="406.5,223.4 405.9,222.8 405.5,221.8 405.5,220.4 405.8,218.8 406.3,217.1 407.1,215.4 408.1,213.8 409.2,212.4 410.4,211.4 411.6,210.7 412.6,210.4 413.5,210.6"/>
<ellipse class="of" cx="411" cy="217.6" rx="7.3" ry="4.4" transform="rotate(-62 411 217.6)"/>
<line class="ld" x1="411" y1="217.6" x2="421" y2="223.5"/>
<polygon class="of" points="180,472.6 328.5,391.1 324.5,383.9 176,465.4"/>
<line class="t" x1="176.4" y1="465.7" x2="180.1" y2="472"/>
<line class="t" x1="178.2" y1="464.7" x2="181.9" y2="471"/>
<line class="t" x1="180.1" y1="463.7" x2="183.8" y2="470"/>
<line class="t" x1="181.9" y1="462.7" x2="185.6" y2="469"/>
<line class="t" x1="183.7" y1="461.7" x2="187.4" y2="468"/>
<line class="t" x1="185.6" y1="460.7" x2="189.3" y2="467"/>
<line class="t" x1="187.4" y1="459.7" x2="191.1" y2="466"/>
<line class="t" x1="189.2" y1="458.7" x2="192.9" y2="465"/>
<line class="t" x1="191.1" y1="457.7" x2="194.8" y2="464"/>
<line class="t" x1="192.9" y1="456.6" x2="196.6" y2="462.9"/>
<line class="t" x1="194.7" y1="455.6" x2="198.4" y2="461.9"/>
<line class="t" x1="196.6" y1="454.6" x2="200.3" y2="460.9"/>
<line class="t" x1="198.4" y1="453.6" x2="202.1" y2="459.9"/>
<line class="t" x1="200.2" y1="452.6" x2="203.9" y2="458.9"/>
<line class="t" x1="202.1" y1="451.6" x2="205.8" y2="457.9"/>
<line class="t" x1="203.9" y1="450.6" x2="207.6" y2="456.9"/>
<line class="t" x1="205.7" y1="449.6" x2="209.4" y2="455.9"/>
<line class="t" x1="207.6" y1="448.6" x2="211.3" y2="454.9"/>
<line class="t" x1="209.4" y1="447.6" x2="213.1" y2="453.9"/>
<line class="t" x1="211.2" y1="446.6" x2="214.9" y2="452.9"/>
<line class="t" x1="213.1" y1="445.6" x2="216.8" y2="451.9"/>
<line class="t" x1="214.9" y1="444.6" x2="218.6" y2="450.9"/>
<line class="t" x1="216.7" y1="443.6" x2="220.4" y2="449.9"/>
<line class="t" x1="218.6" y1="442.6" x2="222.3" y2="448.9"/>
<line class="t" x1="220.4" y1="441.6" x2="224.1" y2="447.9"/>
<line class="t" x1="222.2" y1="440.5" x2="225.9" y2="446.8"/>
<line class="t" x1="224.1" y1="439.5" x2="227.8" y2="445.8"/>
<line class="t" x1="225.9" y1="438.5" x2="229.6" y2="444.8"/>
<line class="t" x1="227.7" y1="437.5" x2="231.4" y2="443.8"/>
<line class="t" x1="229.6" y1="436.5" x2="233.3" y2="442.8"/>
<line class="t" x1="231.4" y1="435.5" x2="235.1" y2="441.8"/>
<line class="t" x1="233.2" y1="434.5" x2="236.9" y2="440.8"/>
<line class="t" x1="235.1" y1="433.5" x2="238.8" y2="439.8"/>
<line class="t" x1="236.9" y1="432.5" x2="240.6" y2="438.8"/>
<line class="t" x1="238.7" y1="431.5" x2="242.4" y2="437.8"/>
<line class="t" x1="240.6" y1="430.5" x2="244.3" y2="436.8"/>
<line class="t" x1="242.4" y1="429.5" x2="246.1" y2="435.8"/>
<line class="t" x1="244.2" y1="428.5" x2="247.9" y2="434.8"/>
<line class="t" x1="246.1" y1="427.5" x2="249.8" y2="433.8"/>
<line class="t" x1="247.9" y1="426.5" x2="251.6" y2="432.8"/>
<line class="t" x1="249.7" y1="425.5" x2="253.4" y2="431.8"/>
<line class="t" x1="251.6" y1="424.4" x2="255.3" y2="430.7"/>
<line class="t" x1="253.4" y1="423.4" x2="257.1" y2="429.7"/>
<line class="t" x1="255.2" y1="422.4" x2="258.9" y2="428.7"/>
<line class="t" x1="257.1" y1="421.4" x2="260.8" y2="427.7"/>
<line class="t" x1="258.9" y1="420.4" x2="262.6" y2="426.7"/>
<line class="t" x1="260.7" y1="419.4" x2="264.4" y2="425.7"/>
<line class="t" x1="262.6" y1="418.4" x2="266.3" y2="424.7"/>
<line class="t" x1="264.4" y1="417.4" x2="268.1" y2="423.7"/>
<line class="t" x1="266.2" y1="416.4" x2="269.9" y2="422.7"/>
<line class="t" x1="268.1" y1="415.4" x2="271.8" y2="421.7"/>
<line class="t" x1="269.9" y1="414.4" x2="273.6" y2="420.7"/>
<line class="t" x1="271.7" y1="413.4" x2="275.4" y2="419.7"/>
<line class="t" x1="273.6" y1="412.4" x2="277.3" y2="418.7"/>
<line class="t" x1="275.4" y1="411.4" x2="279.1" y2="417.7"/>
<line class="t" x1="277.2" y1="410.4" x2="280.9" y2="416.7"/>
<line class="t" x1="279.1" y1="409.4" x2="282.8" y2="415.7"/>
<line class="t" x1="280.9" y1="408.3" x2="284.6" y2="414.6"/>
<line class="t" x1="282.7" y1="407.3" x2="286.4" y2="413.6"/>
<line class="t" x1="284.6" y1="406.3" x2="288.3" y2="412.6"/>
<line class="t" x1="286.4" y1="405.3" x2="290.1" y2="411.6"/>
<line class="t" x1="288.2" y1="404.3" x2="291.9" y2="410.6"/>
<line class="t" x1="290.1" y1="403.3" x2="293.8" y2="409.6"/>
<line class="t" x1="291.9" y1="402.3" x2="295.6" y2="408.6"/>
<line class="t" x1="293.7" y1="401.3" x2="297.4" y2="407.6"/>
<line class="t" x1="295.6" y1="400.3" x2="299.3" y2="406.6"/>
<line class="t" x1="297.4" y1="399.3" x2="301.1" y2="405.6"/>
<line class="t" x1="299.2" y1="398.3" x2="302.9" y2="404.6"/>
<line class="t" x1="301.1" y1="397.3" x2="304.8" y2="403.6"/>
<line class="t" x1="302.9" y1="396.3" x2="306.6" y2="402.6"/>
<line class="t" x1="304.7" y1="395.3" x2="308.4" y2="401.6"/>
<line class="t" x1="306.6" y1="394.3" x2="310.3" y2="400.6"/>
<line class="t" x1="308.4" y1="393.3" x2="312.1" y2="399.6"/>
<line class="t" x1="310.2" y1="392.2" x2="313.9" y2="398.5"/>
<line class="t" x1="312.1" y1="391.2" x2="315.8" y2="397.5"/>
<line class="t" x1="313.9" y1="390.2" x2="317.6" y2="396.5"/>
<line class="t" x1="315.7" y1="389.2" x2="319.4" y2="395.5"/>
<line class="t" x1="317.6" y1="388.2" x2="321.3" y2="394.5"/>
<line class="t" x1="319.4" y1="387.2" x2="323.1" y2="393.5"/>
<line class="t" x1="321.2" y1="386.2" x2="324.9" y2="392.5"/>
<line class="t" x1="323.1" y1="385.2" x2="326.8" y2="391.5"/>
<line class="t" x1="324.9" y1="384.2" x2="328.6" y2="390.5"/>
<ellipse class="of" cx="326.5" cy="387.5" rx="4.1" ry="2.3" transform="rotate(60 326.5 387.5)"/>
<line class="ld" x1="326.5" y1="387.5" x2="341" y2="377.5"/>
<polygon class="of" points="163.8,471.1 163.9,470.5 164,469.9 164.1,469.3 164.3,468.7 164.6,468.2 164.8,467.8 165.2,467.4 165.5,467.1 165.9,466.8 171.4,463.5 171.9,463.3 172.4,463.1 172.9,463.1 173.4,463 173.9,463.1 174.5,463.2 175.1,463.4 175.6,463.6 176.2,463.9 176.8,464.2 177.4,464.6 177.9,465.1 178.5,465.6 179,466.2 179.5,466.8 180,467.4 180.4,468 180.9,468.7 181.2,469.4 181.6,470.2 181.9,470.9 182.1,471.6 182.3,472.4 182.5,473.1 182.6,473.8 182.7,474.5 182.7,475.2 182.6,475.8 182.5,476.4 182.4,477 182.2,477.6 181.9,478.1 181.7,478.5 181.3,478.9 181,479.2 180.6,479.5 175.1,482.8 174.6,483 174.1,483.1 173.6,483.2 173.1,483.3 172.6,483.2 172,483.1 171.4,482.9 170.9,482.7 170.3,482.4 169.7,482.1 169.1,481.7 168.6,481.2 168,480.7 167.5,480.1 167,479.6 166.5,478.9 166.1,478.3 165.6,477.6 165.3,476.9 164.9,476.1 164.6,475.4 164.4,474.7 164.2,473.9 164,473.2 163.9,472.5 163.8,471.8"/>
<ellipse class="of" cx="170.5" cy="474.8" rx="9.2" ry="5.6" transform="rotate(60.3 170.5 474.8)"/>
<ellipse class="t" cx="170.5" cy="474.8" rx="5.7" ry="3.5" transform="rotate(60.3 170.5 474.8)"/>
<polygon class="t" points="172.4,478.2 169.7,477.5 167.8,474.1 168.6,471.4 171.3,472.1 173.2,475.5"/>
<line class="t" x1="172.4" y1="478.2" x2="171.4" y2="480"/>
<line class="t" x1="169.7" y1="477.5" x2="167.5" y2="476.5"/>
<line class="t" x1="167.8" y1="474.1" x2="166.5" y2="471.4"/>
<line class="t" x1="168.6" y1="471.4" x2="169.6" y2="469.6"/>
<line class="t" x1="171.3" y1="472.1" x2="173.5" y2="473.1"/>
<line class="t" x1="173.2" y1="475.5" x2="174.5" y2="478.2"/>
</svg>
<div class="logo"><span style="color:#4a6cc0">m</span><span style="color:#4cae4c">o</span><span style="color:#e46cb0">t</span><span style="color:#3fa83f">o</span><span style="color:#e8541e">r</span><span style="color:#f0a21c">u</span><span style="color:#f4cc1c">f</span><small>.de</small></div>
</body></html>
